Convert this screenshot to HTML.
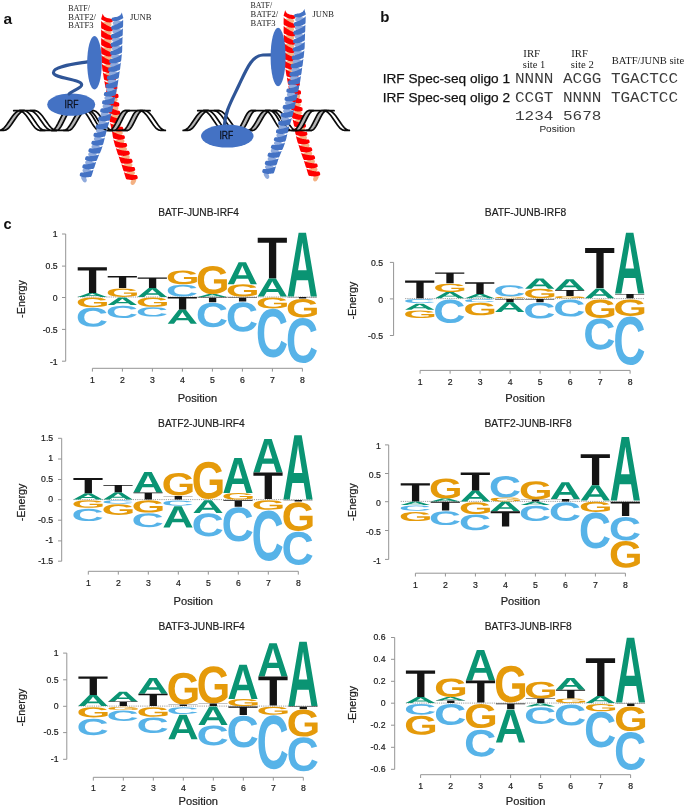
<!DOCTYPE html>
<html><head><meta charset="utf-8"><title>Figure</title>
<style>
html,body{margin:0;padding:0;background:#fff;}
body{width:685px;height:809px;overflow:hidden;font-family:"Liberation Sans",sans-serif;}
svg{display:block;will-change:transform;filter:blur(0.4px);}
text{font-family:"Liberation Sans",sans-serif;}
</style></head><body>
<svg width="685" height="809" viewBox="0 0 685 809" font-family="'Liberation Sans', sans-serif">
<defs><path id="gA" d="M78.7 100 69.7 74.4H30.6L21.5 100H-0L37.4 0H62.7L100 100ZM50.1 15.4 49.6 17Q48.9 19.5 47.9 22.8Q46.9 26 35.4 58.7H64.8L54.7 30L51.6 20.3Z"/><path id="gC" d="M53.1 84Q73 84 80.8 65.5L100 72.2Q93.8 86.3 81.8 93.1Q69.8 100 53.1 100Q27.7 100 13.9 86.7Q-0 73.4 -0 49.6Q-0 25.7 13.4 12.8Q26.7 0 52.1 0Q70.6 0 82.3 6.9Q94 13.7 98.7 27L79.2 31.9Q76.8 24.6 69.6 20.3Q62.4 16 52.6 16Q37.6 16 29.9 24.6Q22.2 33.1 22.2 49.6Q22.2 66.3 30.1 75.2Q38.1 84 53.1 84Z"/><path id="gG" d="M52.2 84.1Q60.6 84.1 68.4 81.8Q76.2 79.4 80.5 75.9V62.4H55.6V47.4H100V83.1Q91.9 91 78.9 95.5Q65.9 100 51.7 100Q26.8 100 13.4 86.9Q0 73.7 0 49.6Q0 25.6 13.5 12.8Q26.9 0 52.2 0Q88.1 0 97.8 25.3L78.1 31Q75 23.6 68.2 19.8Q61.4 16 52.2 16Q37.1 16 29.3 24.7Q21.5 33.4 21.5 49.6Q21.5 66.1 29.6 75.1Q37.6 84.1 52.2 84.1Z"/><path id="gT" d="M0 0H100V12.5H63.5V100H38.5V12.5H0Z"/></defs>
<text x="3.4" y="24" font-size="15.5" font-weight="bold" fill="#111">a</text>
<text x="380.3" y="21.9" font-size="15" font-weight="bold" fill="#111">b</text>
<text x="3.5" y="229.4" font-size="14.6" font-weight="bold" fill="#111">c</text>
<g fill="#f4b183"><ellipse cx="106.68" cy="24.4" rx="4.9" ry="2.7" transform="rotate(0.08 106.68 24.4)"/><ellipse cx="106.68" cy="32.85" rx="4.9" ry="2.7" transform="rotate(-0.03 106.68 32.85)"/><ellipse cx="106.71" cy="41.3" rx="4.9" ry="2.7" transform="rotate(-0.24 106.71 41.3)"/><ellipse cx="106.72" cy="49.75" rx="4.9" ry="2.7" transform="rotate(-0.19 106.72 49.75)"/><ellipse cx="106.9" cy="58.21" rx="4.9" ry="2.7" transform="rotate(-2.38 106.9 58.21)"/><ellipse cx="107.66" cy="66.65" rx="4.9" ry="2.7" transform="rotate(-6.98 107.66 66.65)"/><ellipse cx="108.92" cy="75.01" rx="4.9" ry="2.7" transform="rotate(-8.92 108.92 75.01)"/><ellipse cx="110.38" cy="83.34" rx="4.9" ry="2.7" transform="rotate(-10.55 110.38 83.34)"/><ellipse cx="111.81" cy="91.66" rx="4.9" ry="2.7" transform="rotate(-8.58 111.81 91.66)"/><ellipse cx="112.75" cy="100.04" rx="4.9" ry="2.7" transform="rotate(-5.36 112.75 100.04)"/><ellipse cx="113.49" cy="108.46" rx="4.9" ry="2.7" transform="rotate(-5.3 113.49 108.46)"/><ellipse cx="114.54" cy="116.86" rx="4.9" ry="2.7" transform="rotate(-9.08 114.54 116.86)"/><ellipse cx="116.3" cy="125.14" rx="4.9" ry="2.7" transform="rotate(-13.03 116.3 125.14)"/><ellipse cx="117.95" cy="133.41" rx="4.9" ry="2.7" transform="rotate(-9.47 117.95 133.41)"/><ellipse cx="119.68" cy="141.7" rx="4.9" ry="2.7" transform="rotate(-14.99 119.68 141.7)"/><ellipse cx="122.22" cy="149.78" rx="4.9" ry="2.7" transform="rotate(-18.09 122.22 149.78)"/><ellipse cx="124.97" cy="157.78" rx="4.9" ry="2.7" transform="rotate(-19.57 124.97 157.78)"/><ellipse cx="127.69" cy="165.76" rx="4.9" ry="2.7" transform="rotate(-18.06 127.69 165.76)"/><ellipse cx="130.23" cy="173.82" rx="4.9" ry="2.7" transform="rotate(-17.35 130.23 173.82)"/><ellipse cx="133.41" cy="181.37" rx="3.8" ry="2.3" transform="rotate(-62.26 133.41 181.37)"/></g><path d="M112.79 20.56L112.78 20.32L112.74 20.09L112.66 19.86L112.55 19.64L112.4 19.44L112.19 19.26L111.93 19.11L111.61 18.98L111.24 18.86L110.84 18.76L110.42 18.66L109.99 18.56L109.53 18.46L109.03 18.37L108.51 18.29L107.99 18.2L107.47 18.09L106.99 17.95L106.53 17.78L106.08 17.58L105.64 17.36L105.22 17.13L104.84 16.89L104.5 16.65L104.2 16.39L103.94 16.12L103.72 15.85L103.53 15.57L103.35 15.3L103.2 15.04L103.07 14.77L102.98 14.46L102.91 14.15L102.85 13.9L102.79 13.75L102.7 13.74L102.59 13.92L102.48 14.26L102.35 14.69L102.23 15.17L102.11 15.64L102 16.04L101.88 16.4L101.77 16.76L101.66 17.1L101.56 17.44L101.47 17.75L101.39 18.04L101.32 18.3L101.24 18.54L101.17 18.75L101.13 18.95L101.15 19.15L101.24 19.34L101.42 19.52L101.67 19.69L101.98 19.85L102.32 20.01L102.66 20.17L102.99 20.34L103.31 20.53L103.64 20.72L103.97 20.91L104.31 21.1L104.65 21.28L104.99 21.45L105.31 21.59L105.62 21.73L105.92 21.85L106.25 21.96L106.59 22.06L106.99 22.15L107.44 22.23L107.94 22.29L108.47 22.34L109.01 22.38L109.52 22.4L109.99 22.4L110.42 22.4L110.84 22.38L111.24 22.34L111.6 22.28L111.92 22.19L112.19 22.06L112.39 21.87L112.55 21.64L112.66 21.37L112.74 21.09L112.78 20.81ZM112.83 29.1L112.82 28.81L112.79 28.52L112.73 28.24L112.63 27.97L112.48 27.73L112.28 27.5L112.01 27.32L111.67 27.17L111.28 27.04L110.86 26.91L110.42 26.77L109.98 26.6L109.52 26.4L109.03 26.19L108.52 25.96L108.01 25.72L107.49 25.46L106.98 25.2L106.47 24.92L105.95 24.62L105.43 24.32L104.92 24L104.43 23.7L103.98 23.4L103.56 23.09L103.16 22.78L102.79 22.47L102.44 22.18L102.14 21.92L101.89 21.69L101.69 21.47L101.56 21.24L101.47 21.03L101.4 20.89L101.34 20.86L101.29 20.99L101.23 21.3L101.19 21.78L101.16 22.36L101.15 23.01L101.14 23.67L101.13 24.29L101.12 24.93L101.1 25.62L101.09 26.33L101.1 27.01L101.16 27.61L101.28 28.1L101.47 28.44L101.72 28.67L102.01 28.82L102.33 28.94L102.66 29.05L102.98 29.2L103.29 29.37L103.62 29.55L103.96 29.72L104.3 29.89L104.64 30.05L104.98 30.2L105.3 30.34L105.61 30.47L105.92 30.59L106.24 30.7L106.59 30.8L106.98 30.9L107.43 30.99L107.93 31.08L108.46 31.16L108.99 31.23L109.51 31.28L109.98 31.3L110.42 31.31L110.86 31.31L111.28 31.29L111.67 31.24L112 31.15L112.28 31L112.48 30.77L112.63 30.47L112.73 30.13L112.79 29.77L112.82 29.42ZM112.84 37.53L112.83 37.24L112.8 36.95L112.74 36.67L112.64 36.4L112.49 36.16L112.28 35.94L112.01 35.75L111.67 35.61L111.29 35.48L110.87 35.35L110.43 35.21L109.98 35.04L109.52 34.85L109.03 34.63L108.52 34.4L108.01 34.16L107.49 33.91L106.98 33.65L106.47 33.37L105.95 33.08L105.42 32.77L104.91 32.46L104.43 32.15L103.98 31.85L103.56 31.55L103.16 31.24L102.78 30.93L102.43 30.64L102.13 30.37L101.88 30.15L101.69 29.93L101.55 29.69L101.46 29.49L101.39 29.35L101.33 29.32L101.28 29.45L101.22 29.76L101.18 30.23L101.16 30.82L101.14 31.47L101.13 32.13L101.13 32.75L101.12 33.39L101.1 34.09L101.09 34.8L101.11 35.48L101.17 36.08L101.29 36.57L101.48 36.91L101.73 37.14L102.02 37.29L102.34 37.41L102.67 37.52L102.99 37.67L103.31 37.84L103.63 38.02L103.97 38.19L104.31 38.35L104.66 38.51L104.99 38.66L105.32 38.79L105.62 38.92L105.93 39.04L106.25 39.15L106.6 39.26L107 39.35L107.45 39.44L107.95 39.53L108.48 39.61L109.01 39.67L109.53 39.72L110 39.74L110.44 39.74L110.88 39.74L111.3 39.73L111.69 39.67L112.02 39.58L112.3 39.43L112.5 39.2L112.65 38.9L112.75 38.56L112.8 38.2L112.83 37.84ZM112.86 45.99L112.86 45.7L112.83 45.41L112.77 45.13L112.67 44.86L112.52 44.62L112.31 44.39L112.04 44.21L111.7 44.06L111.32 43.93L110.9 43.8L110.46 43.66L110.01 43.49L109.55 43.29L109.06 43.08L108.56 42.85L108.04 42.61L107.52 42.36L107.01 42.1L106.5 41.82L105.97 41.53L105.45 41.22L104.94 40.92L104.45 40.61L104 40.31L103.58 40.01L103.18 39.71L102.8 39.4L102.45 39.11L102.15 38.84L101.89 38.62L101.7 38.4L101.56 38.17L101.47 37.96L101.4 37.82L101.35 37.8L101.29 37.92L101.24 38.24L101.2 38.71L101.17 39.29L101.16 39.94L101.16 40.6L101.16 41.22L101.15 41.86L101.13 42.55L101.12 43.25L101.14 43.92L101.2 44.52L101.31 45.01L101.5 45.35L101.75 45.58L102.05 45.73L102.37 45.85L102.7 45.96L103.01 46.1L103.33 46.28L103.66 46.46L104 46.63L104.34 46.8L104.68 46.95L105.01 47.1L105.34 47.24L105.64 47.37L105.95 47.49L106.27 47.6L106.62 47.7L107.02 47.8L107.47 47.89L107.97 47.98L108.5 48.06L109.03 48.12L109.54 48.17L110.02 48.19L110.46 48.2L110.9 48.2L111.32 48.18L111.7 48.13L112.04 48.04L112.32 47.89L112.52 47.66L112.67 47.36L112.77 47.02L112.83 46.66L112.86 46.31ZM112.92 54.32L112.91 54.03L112.87 53.75L112.81 53.48L112.71 53.22L112.55 52.99L112.35 52.77L112.07 52.59L111.73 52.45L111.34 52.33L110.92 52.21L110.48 52.08L110.03 51.92L109.57 51.72L109.08 51.51L108.57 51.29L108.05 51.06L107.53 50.81L107.02 50.55L106.51 50.28L105.99 49.98L105.46 49.68L104.95 49.37L104.47 49.06L104.02 48.76L103.6 48.46L103.19 48.15L102.82 47.84L102.47 47.55L102.17 47.28L101.91 47.06L101.72 46.84L101.59 46.6L101.49 46.39L101.43 46.26L101.37 46.23L101.31 46.36L101.26 46.67L101.22 47.14L101.19 47.73L101.18 48.38L101.17 49.05L101.17 49.68L101.16 50.32L101.15 51.03L101.14 51.75L101.16 52.44L101.23 53.06L101.36 53.55L101.55 53.9L101.81 54.13L102.1 54.28L102.43 54.39L102.75 54.5L103.08 54.64L103.4 54.81L103.73 54.99L104.07 55.15L104.42 55.31L104.76 55.47L105.1 55.61L105.43 55.74L105.74 55.86L106.05 55.97L106.37 56.07L106.73 56.17L107.12 56.25L107.57 56.33L108.08 56.4L108.61 56.46L109.15 56.51L109.66 56.53L110.13 56.54L110.58 56.53L111.02 56.52L111.44 56.48L111.82 56.42L112.15 56.32L112.42 56.17L112.62 55.94L112.76 55.65L112.85 55.32L112.9 54.97L112.92 54.63ZM113.35 62.33L113.32 62.06L113.27 61.79L113.18 61.53L113.06 61.29L112.9 61.07L112.68 60.88L112.39 60.72L112.04 60.61L111.65 60.51L111.22 60.42L110.77 60.32L110.32 60.19L109.85 60.02L109.35 59.85L108.83 59.65L108.29 59.45L107.76 59.23L107.24 59L106.72 58.75L106.18 58.48L105.64 58.19L105.12 57.9L104.62 57.61L104.16 57.32L103.73 57.03L103.31 56.73L102.92 56.42L102.57 56.13L102.26 55.87L102 55.65L101.8 55.42L101.66 55.18L101.56 54.97L101.49 54.83L101.44 54.81L101.38 54.94L101.34 55.26L101.31 55.75L101.3 56.36L101.31 57.03L101.32 57.72L101.35 58.38L101.37 59.05L101.4 59.78L101.43 60.52L101.5 61.24L101.6 61.87L101.76 62.37L101.98 62.71L102.25 62.93L102.56 63.07L102.89 63.16L103.23 63.24L103.56 63.37L103.89 63.52L104.23 63.67L104.59 63.81L104.94 63.95L105.3 64.07L105.65 64.19L105.99 64.3L106.31 64.39L106.63 64.48L106.96 64.56L107.32 64.62L107.72 64.68L108.17 64.72L108.68 64.75L109.22 64.77L109.76 64.77L110.27 64.76L110.74 64.73L111.18 64.68L111.62 64.63L112.04 64.57L112.41 64.48L112.74 64.35L112.99 64.18L113.17 63.94L113.29 63.64L113.35 63.31L113.38 62.97L113.37 62.63ZM114.42 70.37L114.37 70.08L114.29 69.81L114.19 69.54L114.05 69.3L113.87 69.08L113.63 68.89L113.34 68.76L112.98 68.66L112.58 68.59L112.15 68.53L111.69 68.46L111.23 68.36L110.74 68.23L110.23 68.09L109.7 67.94L109.15 67.77L108.6 67.59L108.06 67.4L107.52 67.2L106.96 66.97L106.4 66.73L105.85 66.48L105.33 66.23L104.85 65.98L104.4 65.72L103.96 65.45L103.55 65.18L103.17 64.91L102.84 64.67L102.56 64.46L102.35 64.25L102.19 64.02L102.07 63.81L101.99 63.67L101.93 63.65L101.89 63.79L101.87 64.12L101.88 64.63L101.92 65.24L101.98 65.92L102.06 66.61L102.14 67.26L102.22 67.92L102.3 68.64L102.39 69.37L102.51 70.06L102.66 70.66L102.85 71.13L103.09 71.44L103.37 71.64L103.69 71.75L104.02 71.81L104.36 71.87L104.7 71.97L105.04 72.1L105.39 72.22L105.75 72.34L106.12 72.46L106.48 72.56L106.83 72.66L107.17 72.74L107.5 72.82L107.82 72.89L108.16 72.96L108.52 73L108.92 73.04L109.38 73.06L109.89 73.07L110.42 73.07L110.96 73.05L111.48 73.02L111.94 72.97L112.38 72.91L112.82 72.85L113.23 72.76L113.6 72.66L113.92 72.51L114.17 72.32L114.34 72.07L114.44 71.75L114.48 71.39L114.49 71.03L114.46 70.68ZM115.75 78.57L115.69 78.29L115.61 78.02L115.51 77.76L115.36 77.52L115.18 77.31L114.94 77.13L114.64 77L114.28 76.91L113.88 76.85L113.44 76.8L112.99 76.74L112.52 76.65L112.04 76.53L111.52 76.4L110.98 76.25L110.43 76.1L109.88 75.93L109.34 75.76L108.79 75.56L108.23 75.35L107.67 75.13L107.12 74.9L106.59 74.67L106.1 74.44L105.64 74.21L105.19 73.96L104.77 73.72L104.39 73.48L104.05 73.27L103.76 73.08L103.54 72.89L103.37 72.68L103.24 72.49L103.15 72.36L103.1 72.35L103.06 72.48L103.05 72.8L103.09 73.27L103.15 73.85L103.24 74.5L103.33 75.16L103.43 75.78L103.51 76.42L103.6 77.12L103.71 77.84L103.84 78.52L104 79.13L104.2 79.6L104.45 79.91L104.74 80.1L105.05 80.2L105.39 80.26L105.73 80.32L106.07 80.41L106.42 80.53L106.77 80.64L107.13 80.76L107.5 80.86L107.87 80.96L108.22 81.04L108.57 81.12L108.89 81.19L109.22 81.26L109.55 81.31L109.92 81.35L110.32 81.37L110.78 81.38L111.29 81.38L111.82 81.36L112.36 81.33L112.88 81.28L113.34 81.22L113.78 81.14L114.21 81.07L114.62 80.97L114.99 80.85L115.31 80.7L115.55 80.5L115.71 80.25L115.8 79.93L115.84 79.58L115.83 79.22L115.8 78.87ZM117.29 86.93L117.23 86.63L117.15 86.35L117.04 86.07L116.89 85.82L116.7 85.59L116.46 85.41L116.16 85.27L115.8 85.18L115.4 85.12L114.96 85.07L114.5 85.01L114.03 84.91L113.55 84.8L113.03 84.67L112.48 84.54L111.93 84.39L111.37 84.24L110.83 84.07L110.27 83.89L109.71 83.7L109.13 83.49L108.58 83.28L108.04 83.07L107.55 82.85L107.08 82.63L106.62 82.4L106.2 82.17L105.8 81.94L105.46 81.73L105.17 81.55L104.94 81.37L104.76 81.16L104.63 80.97L104.54 80.84L104.48 80.82L104.45 80.96L104.45 81.28L104.5 81.76L104.58 82.35L104.68 82.99L104.8 83.65L104.91 84.26L105.02 84.88L105.12 85.56L105.24 86.25L105.37 86.9L105.53 87.47L105.73 87.91L105.98 88.21L106.26 88.38L106.58 88.48L106.91 88.54L107.25 88.59L107.59 88.68L107.93 88.8L108.29 88.91L108.65 89.02L109.01 89.13L109.37 89.23L109.73 89.32L110.07 89.4L110.39 89.48L110.72 89.55L111.05 89.61L111.41 89.65L111.81 89.69L112.27 89.71L112.78 89.72L113.32 89.72L113.86 89.7L114.37 89.67L114.84 89.62L115.28 89.56L115.72 89.5L116.13 89.41L116.5 89.3L116.82 89.16L117.06 88.96L117.23 88.69L117.33 88.36L117.37 88L117.37 87.62L117.33 87.26ZM118.5 95.66L118.46 95.36L118.4 95.06L118.31 94.78L118.18 94.51L118 94.27L117.77 94.07L117.48 93.91L117.13 93.8L116.73 93.71L116.29 93.63L115.84 93.54L115.38 93.42L114.9 93.28L114.38 93.12L113.85 92.96L113.31 92.78L112.76 92.6L112.22 92.41L111.68 92.2L111.12 91.98L110.56 91.76L110.01 91.53L109.48 91.3L108.99 91.08L108.54 90.85L108.09 90.61L107.67 90.38L107.29 90.15L106.95 89.95L106.66 89.77L106.44 89.59L106.27 89.39L106.14 89.21L106.05 89.09L105.99 89.07L105.96 89.2L105.95 89.51L105.99 89.97L106.05 90.52L106.13 91.14L106.22 91.76L106.3 92.35L106.38 92.95L106.45 93.61L106.53 94.28L106.62 94.92L106.74 95.48L106.91 95.93L107.14 96.23L107.41 96.43L107.72 96.54L108.05 96.62L108.39 96.69L108.72 96.8L109.05 96.94L109.39 97.08L109.75 97.21L110.1 97.34L110.46 97.46L110.81 97.57L111.14 97.68L111.46 97.78L111.78 97.86L112.11 97.94L112.47 98.01L112.86 98.07L113.32 98.12L113.83 98.16L114.36 98.19L114.9 98.21L115.42 98.2L115.89 98.18L116.33 98.15L116.77 98.11L117.18 98.05L117.56 97.96L117.89 97.84L118.15 97.66L118.33 97.41L118.45 97.09L118.51 96.73L118.54 96.35L118.53 95.99ZM119.28 104.18L119.25 103.9L119.19 103.61L119.11 103.34L118.99 103.08L118.82 102.84L118.6 102.64L118.31 102.48L117.96 102.36L117.56 102.27L117.13 102.18L116.68 102.07L116.23 101.94L115.75 101.78L115.25 101.61L114.72 101.43L114.18 101.23L113.64 101.03L113.12 100.81L112.58 100.58L112.04 100.33L111.49 100.07L110.95 99.81L110.44 99.55L109.97 99.3L109.52 99.04L109.09 98.77L108.69 98.51L108.32 98.26L107.99 98.03L107.72 97.84L107.5 97.64L107.35 97.43L107.23 97.24L107.15 97.11L107.1 97.09L107.05 97.22L107.03 97.53L107.03 97.99L107.06 98.56L107.11 99.19L107.16 99.83L107.21 100.45L107.26 101.07L107.3 101.76L107.35 102.46L107.42 103.13L107.53 103.72L107.69 104.19L107.91 104.52L108.18 104.72L108.48 104.85L108.81 104.94L109.15 105.02L109.48 105.14L109.81 105.29L110.15 105.44L110.5 105.58L110.85 105.72L111.21 105.85L111.56 105.97L111.89 106.08L112.21 106.18L112.52 106.27L112.85 106.35L113.21 106.43L113.61 106.49L114.07 106.54L114.57 106.58L115.11 106.62L115.65 106.63L116.16 106.63L116.63 106.61L117.08 106.58L117.51 106.55L117.93 106.49L118.31 106.41L118.64 106.28L118.9 106.11L119.08 105.87L119.2 105.56L119.27 105.21L119.3 104.85L119.3 104.5ZM120.09 112.36L120.05 112.09L119.99 111.82L119.9 111.57L119.77 111.32L119.59 111.11L119.37 110.92L119.07 110.77L118.72 110.67L118.33 110.58L117.9 110.51L117.45 110.42L116.99 110.3L116.51 110.15L116 109.99L115.47 109.82L114.93 109.63L114.39 109.44L113.86 109.23L113.33 109L112.78 108.75L112.23 108.5L111.69 108.23L111.18 107.97L110.71 107.71L110.26 107.45L109.83 107.17L109.43 106.9L109.06 106.63L108.74 106.39L108.46 106.19L108.25 105.99L108.1 105.76L107.99 105.56L107.91 105.43L107.85 105.41L107.8 105.54L107.78 105.86L107.78 106.34L107.8 106.93L107.85 107.58L107.9 108.25L107.95 108.89L108.01 109.53L108.06 110.25L108.12 110.97L108.21 111.67L108.33 112.29L108.51 112.78L108.74 113.11L109.01 113.32L109.33 113.44L109.66 113.52L110 113.6L110.33 113.71L110.67 113.85L111.02 113.99L111.37 114.12L111.73 114.25L112.09 114.37L112.45 114.47L112.79 114.56L113.11 114.65L113.43 114.73L113.77 114.79L114.13 114.85L114.53 114.89L114.99 114.91L115.5 114.93L116.03 114.93L116.57 114.91L117.08 114.88L117.55 114.83L117.99 114.77L118.43 114.71L118.84 114.63L119.21 114.53L119.53 114.39L119.78 114.21L119.96 113.97L120.06 113.67L120.12 113.34L120.13 112.99L120.12 112.66ZM121.46 120.18L121.39 119.91L121.31 119.64L121.19 119.39L121.04 119.16L120.85 118.96L120.6 118.8L120.3 118.68L119.94 118.61L119.54 118.56L119.1 118.52L118.65 118.48L118.18 118.4L117.69 118.3L117.17 118.18L116.63 118.06L116.08 117.92L115.52 117.77L114.97 117.6L114.42 117.42L113.85 117.21L113.29 116.99L112.73 116.76L112.2 116.53L111.71 116.3L111.25 116.05L110.8 115.79L110.38 115.53L109.99 115.28L109.65 115.04L109.37 114.84L109.15 114.64L108.98 114.41L108.86 114.21L108.78 114.07L108.72 114.05L108.68 114.19L108.67 114.53L108.69 115.03L108.76 115.65L108.84 116.33L108.94 117.03L109.05 117.69L109.16 118.36L109.27 119.09L109.4 119.83L109.55 120.53L109.74 121.14L109.96 121.62L110.22 121.92L110.51 122.11L110.83 122.2L111.17 122.25L111.51 122.3L111.86 122.37L112.21 122.48L112.57 122.59L112.93 122.69L113.3 122.78L113.67 122.86L114.03 122.93L114.38 123L114.71 123.06L115.04 123.11L115.37 123.15L115.74 123.17L116.14 123.18L116.6 123.17L117.11 123.14L117.65 123.1L118.18 123.05L118.69 122.98L119.16 122.9L119.59 122.81L120.02 122.71L120.43 122.6L120.79 122.46L121.1 122.3L121.33 122.09L121.48 121.83L121.56 121.51L121.58 121.17L121.56 120.82L121.52 120.48ZM123.35 128.53L123.28 128.23L123.19 127.93L123.07 127.65L122.92 127.4L122.72 127.17L122.47 126.98L122.16 126.85L121.79 126.77L121.39 126.73L120.95 126.69L120.49 126.64L120.02 126.57L119.52 126.47L119 126.36L118.45 126.25L117.89 126.13L117.33 126L116.77 125.86L116.21 125.7L115.63 125.53L115.05 125.35L114.48 125.16L113.94 124.97L113.44 124.78L112.96 124.58L112.49 124.36L112.05 124.14L111.65 123.93L111.3 123.73L111 123.57L110.76 123.39L110.58 123.18L110.44 122.99L110.34 122.87L110.28 122.85L110.25 122.99L110.27 123.32L110.34 123.8L110.45 124.39L110.58 125.04L110.72 125.69L110.87 126.3L111 126.92L111.14 127.58L111.28 128.25L111.44 128.88L111.62 129.43L111.83 129.85L112.08 130.12L112.37 130.28L112.69 130.37L113.02 130.41L113.37 130.45L113.71 130.53L114.05 130.63L114.4 130.74L114.76 130.84L115.13 130.93L115.49 131.02L115.85 131.11L116.19 131.18L116.52 131.25L116.84 131.31L117.18 131.37L117.54 131.41L117.94 131.43L118.4 131.45L118.91 131.45L119.44 131.44L119.98 131.42L120.49 131.38L120.96 131.32L121.4 131.25L121.83 131.18L122.25 131.09L122.62 130.98L122.93 130.82L123.18 130.62L123.34 130.35L123.43 130.01L123.46 129.63L123.45 129.24L123.41 128.87ZM124.77 136.76L124.7 136.5L124.62 136.26L124.52 136.02L124.37 135.8L124.19 135.61L123.95 135.45L123.65 135.33L123.29 135.25L122.89 135.2L122.46 135.16L122.01 135.1L121.54 135.02L121.06 134.91L120.54 134.78L120.01 134.64L119.46 134.49L118.91 134.33L118.37 134.15L117.82 133.96L117.26 133.75L116.7 133.53L116.15 133.31L115.62 133.08L115.14 132.87L114.67 132.65L114.23 132.42L113.81 132.19L113.42 131.97L113.08 131.78L112.79 131.62L112.57 131.45L112.39 131.26L112.26 131.09L112.17 130.97L112.12 130.96L112.08 131.08L112.08 131.38L112.12 131.82L112.19 132.37L112.28 132.97L112.37 133.6L112.46 134.2L112.55 134.83L112.63 135.54L112.74 136.27L112.87 136.98L113.04 137.61L113.25 138.11L113.51 138.44L113.81 138.64L114.13 138.74L114.47 138.8L114.81 138.85L115.16 138.94L115.51 139.05L115.87 139.17L116.24 139.27L116.61 139.37L116.98 139.45L117.35 139.52L117.69 139.59L118.02 139.64L118.35 139.69L118.69 139.72L119.06 139.74L119.46 139.74L119.92 139.72L120.43 139.68L120.96 139.63L121.5 139.56L122.01 139.48L122.47 139.38L122.9 139.28L123.33 139.17L123.73 139.05L124.09 138.91L124.39 138.74L124.63 138.54L124.77 138.29L124.85 138L124.88 137.68L124.86 137.35L124.82 137.04ZM126.92 144.34L126.82 144.08L126.71 143.82L126.57 143.57L126.4 143.36L126.18 143.17L125.92 143.03L125.61 142.94L125.24 142.9L124.84 142.89L124.4 142.9L123.94 142.89L123.47 142.86L122.97 142.81L122.44 142.75L121.89 142.68L121.32 142.59L120.76 142.5L120.19 142.39L119.63 142.27L119.04 142.12L118.45 141.96L117.87 141.79L117.32 141.61L116.81 141.43L116.32 141.23L115.84 141.02L115.4 140.79L114.98 140.57L114.62 140.36L114.32 140.18L114.07 139.99L113.88 139.77L113.74 139.57L113.64 139.44L113.58 139.42L113.56 139.57L113.58 139.92L113.66 140.44L113.79 141.07L113.95 141.76L114.13 142.45L114.31 143.1L114.49 143.75L114.68 144.46L114.88 145.18L115.1 145.85L115.34 146.43L115.6 146.87L115.89 147.15L116.2 147.29L116.53 147.36L116.87 147.37L117.21 147.38L117.56 147.43L117.92 147.5L118.28 147.57L118.66 147.64L119.04 147.69L119.41 147.74L119.78 147.78L120.13 147.81L120.46 147.84L120.79 147.86L121.13 147.87L121.49 147.86L121.9 147.83L122.35 147.78L122.86 147.71L123.39 147.62L123.91 147.52L124.42 147.41L124.87 147.28L125.3 147.15L125.72 147.02L126.11 146.87L126.46 146.71L126.75 146.52L126.97 146.29L127.09 146.01L127.14 145.69L127.13 145.34L127.08 144.98L127 144.64ZM129.52 152.23L129.42 151.97L129.3 151.71L129.16 151.47L128.98 151.25L128.76 151.07L128.5 150.93L128.18 150.85L127.81 150.82L127.41 150.82L126.97 150.83L126.51 150.84L126.04 150.82L125.54 150.78L125.01 150.73L124.46 150.68L123.89 150.61L123.32 150.53L122.75 150.44L122.18 150.34L121.59 150.22L121 150.09L120.42 149.95L119.86 149.81L119.34 149.67L118.85 149.51L118.37 149.34L117.91 149.16L117.49 148.98L117.12 148.82L116.81 148.68L116.56 148.53L116.36 148.34L116.2 148.17L116.09 148.06L116.03 148.05L116.02 148.19L116.07 148.51L116.18 148.98L116.33 149.55L116.52 150.18L116.72 150.81L116.91 151.41L117.11 152.03L117.31 152.7L117.52 153.39L117.75 154.04L118 154.6L118.27 155.03L118.56 155.3L118.88 155.44L119.21 155.5L119.55 155.51L119.9 155.51L120.25 155.54L120.6 155.61L120.97 155.67L121.35 155.73L121.73 155.77L122.1 155.81L122.47 155.84L122.82 155.87L123.15 155.89L123.48 155.9L123.83 155.9L124.19 155.88L124.59 155.84L125.05 155.78L125.55 155.69L126.08 155.59L126.6 155.48L127.1 155.35L127.55 155.21L127.97 155.07L128.39 154.93L128.78 154.77L129.13 154.6L129.41 154.4L129.62 154.17L129.74 153.89L129.78 153.56L129.76 153.21L129.7 152.86L129.62 152.53ZM132.34 160.23L132.24 159.95L132.12 159.68L131.97 159.42L131.78 159.2L131.56 159.01L131.29 158.86L130.97 158.77L130.6 158.74L130.19 158.74L129.75 158.76L129.29 158.77L128.82 158.76L128.32 158.72L127.78 158.68L127.23 158.63L126.66 158.57L126.08 158.51L125.52 158.43L124.94 158.34L124.35 158.23L123.75 158.12L123.17 158L122.61 157.87L122.08 157.74L121.59 157.59L121.1 157.44L120.64 157.27L120.22 157.1L119.84 156.95L119.53 156.82L119.27 156.67L119.06 156.49L118.9 156.32L118.79 156.21L118.73 156.2L118.72 156.34L118.78 156.66L118.9 157.13L119.07 157.7L119.28 158.32L119.49 158.95L119.7 159.54L119.91 160.14L120.12 160.79L120.34 161.45L120.58 162.08L120.82 162.61L121.09 163.02L121.38 163.27L121.69 163.4L122.01 163.45L122.35 163.46L122.7 163.45L123.05 163.49L123.4 163.55L123.77 163.61L124.14 163.66L124.52 163.71L124.89 163.75L125.26 163.79L125.61 163.81L125.94 163.84L126.27 163.86L126.61 163.86L126.97 163.85L127.37 163.82L127.83 163.76L128.34 163.69L128.86 163.6L129.39 163.5L129.89 163.39L130.35 163.26L130.77 163.13L131.19 163L131.59 162.85L131.94 162.68L132.23 162.48L132.44 162.25L132.56 161.97L132.61 161.63L132.59 161.26L132.53 160.9L132.44 160.54ZM134.98 168.4L134.88 168.12L134.77 167.85L134.63 167.6L134.45 167.37L134.23 167.18L133.97 167.03L133.65 166.93L133.29 166.89L132.88 166.88L132.44 166.89L131.98 166.89L131.5 166.86L131.01 166.81L130.48 166.75L129.92 166.69L129.35 166.61L128.78 166.53L128.22 166.43L127.65 166.33L127.06 166.2L126.47 166.07L125.89 165.94L125.33 165.79L124.82 165.65L124.33 165.5L123.85 165.33L123.4 165.16L122.98 165L122.61 164.85L122.3 164.72L122.05 164.58L121.85 164.4L121.7 164.24L121.59 164.14L121.53 164.13L121.52 164.26L121.56 164.57L121.67 165.02L121.82 165.57L122 166.17L122.19 166.79L122.38 167.38L122.56 167.97L122.75 168.63L122.95 169.3L123.17 169.94L123.41 170.49L123.66 170.91L123.95 171.18L124.25 171.32L124.58 171.38L124.92 171.4L125.26 171.4L125.61 171.45L125.97 171.52L126.33 171.59L126.71 171.65L127.08 171.71L127.45 171.76L127.82 171.8L128.17 171.83L128.5 171.87L128.83 171.89L129.17 171.9L129.53 171.9L129.94 171.87L130.39 171.82L130.9 171.76L131.43 171.68L131.96 171.58L132.46 171.47L132.92 171.36L133.35 171.23L133.77 171.1L134.16 170.96L134.51 170.8L134.81 170.61L135.02 170.38L135.15 170.1L135.2 169.77L135.2 169.41L135.14 169.05L135.07 168.7ZM137.5 176.48L137.41 176.21L137.29 175.94L137.15 175.69L136.98 175.46L136.76 175.27L136.5 175.12L136.18 175.02L135.82 174.98L135.41 174.97L134.97 174.98L134.51 174.97L134.04 174.94L133.54 174.89L133.01 174.83L132.45 174.76L131.89 174.68L131.32 174.59L130.76 174.49L130.19 174.38L129.6 174.25L129.01 174.12L128.43 173.97L127.87 173.82L127.36 173.67L126.87 173.51L126.39 173.33L125.94 173.15L125.52 172.98L125.15 172.82L124.85 172.68L124.6 172.53L124.4 172.35L124.25 172.18L124.14 172.07L124.08 172.06L124.07 172.19L124.11 172.51L124.21 172.97L124.36 173.53L124.53 174.15L124.72 174.78L124.9 175.38L125.08 175.99L125.27 176.65L125.47 177.33L125.68 177.97L125.92 178.53L126.17 178.96L126.46 179.22L126.76 179.37L127.09 179.43L127.43 179.44L127.78 179.46L128.12 179.5L128.48 179.58L128.84 179.65L129.22 179.71L129.59 179.77L129.96 179.82L130.33 179.86L130.68 179.9L131.01 179.93L131.34 179.95L131.68 179.97L132.05 179.96L132.45 179.94L132.9 179.89L133.41 179.83L133.94 179.75L134.47 179.65L134.97 179.55L135.43 179.43L135.86 179.31L136.28 179.18L136.67 179.04L137.03 178.88L137.32 178.69L137.54 178.46L137.67 178.18L137.72 177.85L137.71 177.5L137.66 177.14L137.59 176.79Z" fill="#ff0000"/>
<path d="M19.85 110.7H24.05M40.05 130.4H56.55M66.95 110.7H86.05M99.45 130.4H114.05M124.85 110.7H144.65M13.7 110.7H35.3M51.65 130.4H68.55M81.45 110.7H93.55M107.45 130.4H127.35M137.4 110.7H150.1" fill="none" stroke="#0a0a0a" stroke-width="1.7" stroke-linejoin="round" stroke-linecap="round"/><path d="M-0.85 130.4L0.18 130.28L1.22 129.92L2.25 129.33L3.29 128.52L4.32 127.52L5.36 126.34L6.39 125.02L7.43 123.59L8.46 122.09L9.5 120.55L10.54 119.01L11.57 117.51L12.61 116.08L13.64 114.76L14.67 113.58L15.71 112.58L16.74 111.77L17.78 111.18L18.81 110.82L19.85 110.7L24.55 110.7L23.52 110.82L22.48 111.18L21.45 111.77L20.41 112.58L19.38 113.58L18.34 114.76L17.3 116.08L16.27 117.51L15.23 119.01L14.2 120.55L13.16 122.09L12.13 123.59L11.09 125.02L10.06 126.34L9.03 127.52L7.99 128.52L6.96 129.33L5.92 129.92L4.88 130.28L3.85 130.4ZM51.85 130.4L52.61 130.28L53.36 129.92L54.12 129.33L54.87 128.52L55.62 127.52L56.38 126.34L57.13 125.02L57.89 123.59L58.64 122.09L59.4 120.55L60.16 119.01L60.91 117.51L61.66 116.08L62.42 114.76L63.18 113.58L63.93 112.58L64.69 111.77L65.44 111.18L66.2 110.82L66.95 110.7L71.65 110.7L70.89 110.82L70.14 111.18L69.38 111.77L68.63 112.58L67.88 113.58L67.12 114.76L66.36 116.08L65.61 117.51L64.86 119.01L64.1 120.55L63.34 122.09L62.59 123.59L61.84 125.02L61.08 126.34L60.33 127.52L59.57 128.52L58.82 129.33L58.06 129.92L57.31 130.28L56.55 130.4ZM109.35 130.4L110.13 130.28L110.9 129.92L111.68 129.33L112.45 128.52L113.23 127.52L114 126.34L114.78 125.02L115.55 123.59L116.33 122.09L117.1 120.55L117.88 119.01L118.65 117.51L119.43 116.08L120.2 114.76L120.98 113.58L121.75 112.58L122.53 111.77L123.3 111.18L124.08 110.82L124.85 110.7L129.55 110.7L128.78 110.82L128 111.18L127.22 111.77L126.45 112.58L125.67 113.58L124.9 114.76L124.12 116.08L123.35 117.51L122.58 119.01L121.8 120.55L121.02 122.09L120.25 123.59L119.47 125.02L118.7 126.34L117.92 127.52L117.15 128.52L116.38 129.33L115.6 129.92L114.83 130.28L114.05 130.4ZM63.85 130.4L64.73 130.28L65.61 129.92L66.49 129.33L67.37 128.52L68.25 127.52L69.13 126.34L70.01 125.02L70.89 123.59L71.77 122.09L72.65 120.55L73.53 119.01L74.41 117.51L75.29 116.08L76.17 114.76L77.05 113.58L77.93 112.58L78.81 111.77L79.69 111.18L80.57 110.82L81.45 110.7L86.15 110.7L85.27 110.82L84.39 111.18L83.51 111.77L82.63 112.58L81.75 113.58L80.87 114.76L79.99 116.08L79.11 117.51L78.23 119.01L77.35 120.55L76.47 122.09L75.59 123.59L74.71 125.02L73.83 126.34L72.95 127.52L72.07 128.52L71.19 129.33L70.31 129.92L69.43 130.28L68.55 130.4ZM122.65 130.4L123.41 130.28L124.17 129.92L124.93 129.33L125.69 128.52L126.45 127.52L127.21 126.34L127.97 125.02L128.73 123.59L129.49 122.09L130.25 120.55L131.01 119.01L131.77 117.51L132.53 116.08L133.29 114.76L134.05 113.58L134.81 112.58L135.57 111.77L136.33 111.18L137.09 110.82L137.85 110.7L142.55 110.7L141.79 110.82L141.03 111.18L140.27 111.77L139.51 112.58L138.75 113.58L137.99 114.76L137.23 116.08L136.47 117.51L135.71 119.01L134.95 120.55L134.19 122.09L133.43 123.59L132.67 125.02L131.91 126.34L131.15 127.52L130.39 128.52L129.63 129.33L128.87 129.92L128.11 130.28L127.35 130.4Z" fill="#b4b4b4" stroke="#0a0a0a" stroke-width="1.7" stroke-linejoin="round" stroke-linecap="round"/><path d="M19.35 110.7L20.38 110.82L21.42 111.18L22.45 111.77L23.49 112.58L24.52 113.58L25.56 114.76L26.59 116.08L27.63 117.51L28.66 119.01L29.7 120.55L30.73 122.09L31.77 123.59L32.8 125.02L33.84 126.34L34.87 127.52L35.91 128.52L36.95 129.33L37.98 129.92L39.01 130.28L40.05 130.4L44.75 130.4L43.71 130.28L42.68 129.92L41.65 129.33L40.61 128.52L39.57 127.52L38.54 126.34L37.51 125.02L36.47 123.59L35.44 122.09L34.4 120.55L33.37 119.01L32.33 117.51L31.3 116.08L30.26 114.76L29.23 113.58L28.19 112.58L27.16 111.77L26.12 111.18L25.09 110.82L24.05 110.7ZM81.35 110.7L82.26 110.82L83.16 111.18L84.07 111.77L84.97 112.58L85.88 113.58L86.78 114.76L87.69 116.08L88.59 117.51L89.5 119.01L90.4 120.55L91.31 122.09L92.21 123.59L93.12 125.02L94.02 126.34L94.93 127.52L95.83 128.52L96.73 129.33L97.64 129.92L98.55 130.28L99.45 130.4L104.15 130.4L103.24 130.28L102.34 129.92L101.43 129.33L100.53 128.52L99.62 127.52L98.72 126.34L97.81 125.02L96.91 123.59L96 122.09L95.1 120.55L94.19 119.01L93.29 117.51L92.38 116.08L91.48 114.76L90.57 113.58L89.67 112.58L88.77 111.77L87.86 111.18L86.95 110.82L86.05 110.7ZM139.95 110.7L140.98 110.82L142.02 111.18L143.05 111.77L144.09 112.58L145.12 113.58L146.16 114.76L147.19 116.08L148.23 117.51L149.26 119.01L150.3 120.55L151.34 122.09L152.37 123.59L153.41 125.02L154.44 126.34L155.47 127.52L156.51 128.52L157.54 129.33L158.58 129.92L159.62 130.28L160.65 130.4L165.35 130.4L164.31 130.28L163.28 129.92L162.24 129.33L161.21 128.52L160.17 127.52L159.14 126.34L158.1 125.02L157.07 123.59L156.03 122.09L155 120.55L153.96 119.01L152.93 117.51L151.89 116.08L150.86 114.76L149.82 113.58L148.79 112.58L147.75 111.77L146.72 111.18L145.68 110.82L144.65 110.7ZM30.15 110.7L31.23 110.82L32.3 111.18L33.38 111.77L34.45 112.58L35.52 113.58L36.6 114.76L37.67 116.08L38.75 117.51L39.82 119.01L40.9 120.55L41.98 122.09L43.05 123.59L44.12 125.02L45.2 126.34L46.27 127.52L47.35 128.52L48.42 129.33L49.5 129.92L50.57 130.28L51.65 130.4L56.35 130.4L55.27 130.28L54.2 129.92L53.12 129.33L52.05 128.52L50.98 127.52L49.9 126.34L48.83 125.02L47.75 123.59L46.68 122.09L45.6 120.55L44.52 119.01L43.45 117.51L42.38 116.08L41.3 114.76L40.23 113.58L39.15 112.58L38.08 111.77L37 111.18L35.93 110.82L34.85 110.7ZM88.85 110.7L89.78 110.82L90.71 111.18L91.64 111.77L92.57 112.58L93.5 113.58L94.43 114.76L95.36 116.08L96.29 117.51L97.22 119.01L98.15 120.55L99.08 122.09L100.01 123.59L100.94 125.02L101.87 126.34L102.8 127.52L103.73 128.52L104.66 129.33L105.59 129.92L106.52 130.28L107.45 130.4L112.15 130.4L111.22 130.28L110.29 129.92L109.36 129.33L108.43 128.52L107.5 127.52L106.57 126.34L105.64 125.02L104.71 123.59L103.78 122.09L102.85 120.55L101.92 119.01L100.99 117.51L100.06 116.08L99.13 114.76L98.2 113.58L97.27 112.58L96.34 111.77L95.41 111.18L94.48 110.82L93.55 110.7Z" fill="#fff" stroke="#0a0a0a" stroke-width="1.7" stroke-linejoin="round" stroke-linecap="round"/>
<ellipse cx="71.2" cy="104.6" rx="24" ry="11.2" fill="#4472c4"/>
<path d="M88.5 61.6C78 63.5 53 66 53.4 72.6C53.8 78.5 81 79 81.7 84.6C82 88 72 91 69 94" fill="none" stroke="#2f5597" stroke-width="3.1" stroke-linecap="round"/>
<ellipse cx="94.5" cy="62.8" rx="7.3" ry="26.8" fill="#4472c4"/>
<g fill="#8faadc"><ellipse cx="117.58" cy="23.11" rx="4.9" ry="2.7" transform="rotate(1.67 117.58 23.11)"/><ellipse cx="117.26" cy="31.55" rx="4.9" ry="2.7" transform="rotate(2.37 117.26 31.55)"/><ellipse cx="116.9" cy="39.99" rx="4.9" ry="2.7" transform="rotate(2.26 116.9 39.99)"/><ellipse cx="116.68" cy="48.44" rx="4.9" ry="2.7" transform="rotate(1.93 116.68 48.44)"/><ellipse cx="116" cy="56.88" rx="4.9" ry="2.7" transform="rotate(6.08 116 56.88)"/><ellipse cx="114.95" cy="65.28" rx="4.9" ry="2.7" transform="rotate(7.54 114.95 65.28)"/><ellipse cx="113.78" cy="73.65" rx="4.9" ry="2.7" transform="rotate(8.24 113.78 73.65)"/><ellipse cx="112.5" cy="82.01" rx="4.9" ry="2.7" transform="rotate(9.24 112.5 82.01)"/><ellipse cx="110.94" cy="90.32" rx="4.9" ry="2.7" transform="rotate(11.3 110.94 90.32)"/><ellipse cx="109.2" cy="98.59" rx="4.9" ry="2.7" transform="rotate(12.18 109.2 98.59)"/><ellipse cx="107.37" cy="106.85" rx="4.9" ry="2.7" transform="rotate(12.79 107.37 106.85)"/><ellipse cx="105.42" cy="115.08" rx="4.9" ry="2.7" transform="rotate(13.94 105.42 115.08)"/><ellipse cx="103.12" cy="123.22" rx="4.9" ry="2.7" transform="rotate(16.78 103.12 123.22)"/><ellipse cx="100.75" cy="131.32" rx="4.9" ry="2.7" transform="rotate(15.22 100.75 131.32)"/><ellipse cx="98.67" cy="139.51" rx="4.9" ry="2.7" transform="rotate(14.42 98.67 139.51)"/><ellipse cx="96.2" cy="147.62" rx="4.9" ry="2.7" transform="rotate(19.8 96.2 147.62)"/><ellipse cx="92.85" cy="155.39" rx="4.9" ry="2.7" transform="rotate(23.49 92.85 155.39)"/><ellipse cx="89.89" cy="163.28" rx="4.9" ry="2.7" transform="rotate(18.99 89.89 163.28)"/><ellipse cx="87.25" cy="171.3" rx="4.9" ry="2.7" transform="rotate(17.96 87.25 171.3)"/><ellipse cx="83.98" cy="178.81" rx="3.8" ry="2.3" transform="rotate(62.99 83.98 178.81)"/></g><path d="M111.59 19.13L111.6 18.9L111.65 18.67L111.72 18.44L111.84 18.23L112 18.03L112.21 17.86L112.48 17.71L112.8 17.59L113.17 17.48L113.57 17.39L113.99 17.3L114.42 17.2L114.88 17.11L115.38 17.04L115.91 16.96L116.43 16.88L116.95 16.78L117.43 16.65L117.89 16.48L118.35 16.29L118.8 16.08L119.22 15.86L119.6 15.62L119.95 15.38L120.25 15.13L120.51 14.87L120.73 14.59L120.93 14.32L121.11 14.05L121.27 13.8L121.4 13.52L121.49 13.21L121.56 12.91L121.63 12.65L121.7 12.5L121.78 12.5L121.89 12.68L122 13.02L122.11 13.45L122.23 13.93L122.35 14.4L122.46 14.81L122.56 15.17L122.67 15.53L122.78 15.89L122.87 16.22L122.96 16.54L123.03 16.84L123.1 17.1L123.17 17.34L123.24 17.56L123.27 17.77L123.25 17.96L123.16 18.15L122.97 18.34L122.72 18.5L122.41 18.66L122.07 18.81L121.72 18.97L121.39 19.13L121.07 19.31L120.73 19.5L120.39 19.68L120.05 19.87L119.7 20.04L119.37 20.2L119.04 20.33L118.73 20.46L118.42 20.58L118.09 20.68L117.74 20.77L117.35 20.85L116.9 20.91L116.39 20.96L115.86 21L115.32 21.02L114.81 21.03L114.34 21.02L113.91 21L113.49 20.97L113.1 20.92L112.73 20.85L112.41 20.75L112.15 20.62L111.95 20.43L111.8 20.19L111.69 19.93L111.63 19.65L111.59 19.38ZM111.27 27.56L111.29 27.27L111.33 26.99L111.4 26.71L111.51 26.45L111.66 26.21L111.88 26L112.16 25.82L112.5 25.69L112.89 25.58L113.32 25.46L113.76 25.34L114.21 25.19L114.68 25.01L115.17 24.81L115.69 24.6L116.21 24.38L116.74 24.14L117.26 23.9L117.78 23.64L118.31 23.36L118.84 23.07L119.36 22.77L119.86 22.47L120.31 22.18L120.74 21.89L121.15 21.59L121.54 21.29L121.89 21L122.2 20.74L122.46 20.52L122.66 20.3L122.8 20.07L122.9 19.86L122.97 19.72L123.02 19.7L123.07 19.83L123.12 20.14L123.15 20.63L123.16 21.22L123.16 21.88L123.15 22.55L123.13 23.18L123.12 23.83L123.12 24.53L123.1 25.24L123.06 25.93L122.98 26.53L122.85 27.01L122.64 27.35L122.38 27.57L122.08 27.71L121.76 27.82L121.43 27.92L121.1 28.05L120.78 28.22L120.45 28.38L120.1 28.54L119.76 28.69L119.41 28.84L119.07 28.97L118.74 29.1L118.43 29.22L118.11 29.32L117.79 29.42L117.43 29.51L117.04 29.59L116.59 29.67L116.08 29.74L115.55 29.79L115.01 29.84L114.5 29.87L114.03 29.87L113.58 29.86L113.14 29.84L112.72 29.81L112.34 29.75L112.01 29.64L111.74 29.48L111.54 29.24L111.41 28.94L111.32 28.59L111.28 28.23L111.26 27.88ZM110.91 35.99L110.93 35.7L110.98 35.41L111.05 35.13L111.16 34.87L111.32 34.63L111.53 34.41L111.81 34.24L112.16 34.11L112.55 33.99L112.97 33.89L113.42 33.76L113.87 33.61L114.34 33.43L114.83 33.24L115.35 33.03L115.88 32.81L116.41 32.58L116.92 32.34L117.45 32.08L117.98 31.81L118.52 31.53L119.04 31.24L119.54 30.95L120 30.67L120.43 30.38L120.84 30.09L121.23 29.8L121.59 29.52L121.9 29.26L122.17 29.05L122.37 28.84L122.51 28.6L122.61 28.4L122.69 28.27L122.74 28.24L122.79 28.37L122.84 28.69L122.86 29.16L122.86 29.75L122.85 30.4L122.83 31.06L122.81 31.69L122.79 32.32L122.78 33.02L122.76 33.73L122.72 34.4L122.64 35L122.5 35.48L122.29 35.81L122.03 36.03L121.73 36.17L121.41 36.28L121.08 36.37L120.75 36.51L120.43 36.67L120.09 36.83L119.75 36.99L119.4 37.14L119.05 37.29L118.71 37.42L118.38 37.54L118.07 37.66L117.76 37.77L117.43 37.87L117.08 37.96L116.68 38.04L116.23 38.11L115.72 38.18L115.19 38.24L114.66 38.28L114.14 38.31L113.67 38.31L113.22 38.3L112.78 38.29L112.37 38.25L111.98 38.19L111.65 38.08L111.38 37.92L111.19 37.68L111.05 37.37L110.97 37.02L110.92 36.66L110.91 36.31ZM110.62 44.55L110.64 44.26L110.67 43.97L110.74 43.69L110.84 43.42L111 43.17L111.21 42.95L111.48 42.77L111.83 42.63L112.21 42.51L112.64 42.39L113.08 42.26L113.53 42.1L113.99 41.91L114.49 41.71L115 41.49L115.53 41.27L116.05 41.03L116.57 40.78L117.09 40.52L117.62 40.25L118.16 39.96L118.68 39.67L119.18 39.38L119.64 39.1L120.07 38.82L120.49 38.53L120.88 38.24L121.23 37.97L121.55 37.71L121.81 37.5L122.01 37.29L122.16 37.06L122.26 36.86L122.33 36.72L122.39 36.7L122.44 36.83L122.48 37.14L122.5 37.62L122.5 38.2L122.49 38.84L122.47 39.49L122.45 40.1L122.44 40.72L122.43 41.4L122.42 42.09L122.39 42.75L122.32 43.34L122.19 43.82L121.99 44.15L121.74 44.37L121.44 44.52L121.12 44.63L120.79 44.73L120.47 44.87L120.15 45.04L119.82 45.21L119.48 45.38L119.14 45.54L118.79 45.69L118.45 45.83L118.13 45.96L117.82 46.08L117.51 46.2L117.18 46.3L116.83 46.4L116.44 46.48L115.99 46.56L115.48 46.64L114.95 46.7L114.42 46.75L113.9 46.78L113.43 46.79L112.98 46.79L112.55 46.78L112.13 46.75L111.74 46.69L111.41 46.59L111.14 46.43L110.94 46.21L110.8 45.91L110.7 45.57L110.65 45.22L110.63 44.87ZM110.25 52.62L110.28 52.34L110.34 52.07L110.42 51.81L110.54 51.57L110.7 51.35L110.92 51.15L111.21 50.99L111.55 50.88L111.95 50.78L112.37 50.69L112.82 50.58L113.27 50.44L113.74 50.28L114.24 50.1L114.76 49.9L115.29 49.69L115.82 49.47L116.34 49.23L116.87 48.98L117.4 48.7L117.94 48.41L118.46 48.12L118.95 47.82L119.41 47.53L119.84 47.24L120.25 46.93L120.64 46.63L120.99 46.34L121.29 46.08L121.55 45.86L121.75 45.64L121.89 45.4L121.99 45.2L122.06 45.06L122.11 45.03L122.17 45.16L122.21 45.48L122.24 45.96L122.26 46.56L122.26 47.22L122.25 47.91L122.23 48.56L122.21 49.23L122.2 49.97L122.16 50.71L122.1 51.43L122 52.06L121.85 52.56L121.63 52.9L121.36 53.12L121.05 53.26L120.72 53.35L120.39 53.44L120.06 53.57L119.73 53.72L119.38 53.87L119.03 54.02L118.67 54.16L118.32 54.29L117.97 54.41L117.64 54.51L117.32 54.61L117 54.71L116.67 54.79L116.31 54.86L115.91 54.91L115.45 54.96L114.94 55L114.41 55.02L113.87 55.04L113.35 55.03L112.88 55L112.44 54.97L112 54.92L111.59 54.87L111.21 54.78L110.88 54.65L110.63 54.48L110.44 54.24L110.32 53.94L110.26 53.61L110.23 53.26L110.23 52.92ZM109.34 60.78L109.38 60.5L109.44 60.22L109.54 59.95L109.67 59.7L109.85 59.48L110.08 59.29L110.37 59.14L110.72 59.03L111.12 58.95L111.55 58.88L112.01 58.8L112.47 58.68L112.95 58.54L113.46 58.38L113.99 58.22L114.53 58.04L115.08 57.85L115.61 57.65L116.15 57.43L116.7 57.19L117.26 56.94L117.8 56.69L118.32 56.43L118.79 56.17L119.24 55.91L119.68 55.64L120.09 55.36L120.46 55.1L120.79 54.85L121.06 54.65L121.27 54.44L121.43 54.21L121.55 54L121.63 53.86L121.68 53.84L121.73 53.98L121.75 54.31L121.74 54.8L121.71 55.41L121.66 56.08L121.59 56.76L121.53 57.4L121.46 58.04L121.4 58.75L121.33 59.47L121.23 60.15L121.1 60.75L120.92 61.23L120.69 61.55L120.41 61.75L120.1 61.86L119.77 61.94L119.43 62.01L119.1 62.12L118.76 62.26L118.41 62.39L118.05 62.52L117.7 62.64L117.34 62.76L116.98 62.86L116.65 62.96L116.32 63.05L116 63.13L115.67 63.2L115.31 63.26L114.91 63.3L114.45 63.34L113.94 63.36L113.41 63.37L112.87 63.37L112.35 63.35L111.88 63.31L111.44 63.26L111.01 63.21L110.59 63.13L110.22 63.04L109.89 62.9L109.64 62.72L109.47 62.47L109.36 62.15L109.3 61.81L109.29 61.44L109.3 61.1ZM108.22 69.08L108.27 68.79L108.34 68.51L108.43 68.24L108.57 67.99L108.75 67.77L108.98 67.58L109.28 67.43L109.64 67.33L110.03 67.26L110.47 67.19L110.92 67.12L111.39 67.01L111.87 66.87L112.38 66.73L112.92 66.57L113.46 66.4L114.01 66.22L114.55 66.03L115.09 65.82L115.65 65.6L116.21 65.36L116.75 65.12L117.28 64.88L117.76 64.64L118.22 64.39L118.66 64.14L119.07 63.88L119.45 63.63L119.78 63.4L120.06 63.21L120.28 63.01L120.45 62.8L120.57 62.6L120.65 62.47L120.71 62.45L120.75 62.58L120.76 62.91L120.74 63.39L120.69 63.97L120.63 64.62L120.55 65.29L120.47 65.91L120.39 66.55L120.31 67.25L120.23 67.96L120.12 68.63L119.98 69.22L119.8 69.69L119.56 70L119.28 70.2L118.97 70.31L118.64 70.38L118.3 70.45L117.96 70.55L117.62 70.68L117.27 70.81L116.91 70.94L116.55 71.05L116.19 71.16L115.84 71.26L115.5 71.35L115.18 71.44L114.85 71.52L114.52 71.58L114.16 71.63L113.76 71.67L113.3 71.7L112.79 71.72L112.26 71.72L111.72 71.71L111.2 71.69L110.73 71.64L110.29 71.59L109.86 71.53L109.44 71.45L109.07 71.35L108.75 71.21L108.5 71.02L108.33 70.77L108.22 70.45L108.17 70.1L108.16 69.74L108.18 69.39ZM107 77.37L107.06 77.08L107.13 76.8L107.23 76.54L107.37 76.29L107.55 76.07L107.78 75.88L108.08 75.74L108.44 75.65L108.84 75.58L109.27 75.52L109.73 75.44L110.19 75.34L110.67 75.21L111.19 75.07L111.73 74.92L112.27 74.76L112.82 74.58L113.36 74.4L113.91 74.19L114.47 73.98L115.03 73.75L115.58 73.51L116.11 73.28L116.59 73.04L117.05 72.81L117.49 72.55L117.91 72.3L118.29 72.06L118.63 71.84L118.91 71.65L119.14 71.46L119.3 71.24L119.43 71.05L119.51 70.92L119.57 70.9L119.61 71.04L119.62 71.36L119.59 71.83L119.53 72.42L119.46 73.07L119.37 73.73L119.28 74.35L119.2 74.98L119.12 75.68L119.02 76.39L118.91 77.06L118.76 77.65L118.57 78.12L118.33 78.43L118.05 78.62L117.74 78.73L117.4 78.8L117.06 78.86L116.73 78.96L116.39 79.09L116.03 79.21L115.68 79.33L115.31 79.45L114.95 79.55L114.6 79.65L114.26 79.74L113.93 79.82L113.61 79.89L113.27 79.95L112.91 80L112.51 80.03L112.05 80.05L111.54 80.06L111.01 80.06L110.47 80.04L109.96 80.01L109.49 79.95L109.05 79.89L108.61 79.82L108.2 79.74L107.83 79.63L107.51 79.49L107.26 79.3L107.09 79.05L106.99 78.73L106.95 78.39L106.94 78.03L106.96 77.68ZM105.63 85.49L105.69 85.22L105.77 84.94L105.88 84.69L106.02 84.45L106.21 84.24L106.46 84.06L106.76 83.93L107.11 83.85L107.52 83.79L107.95 83.75L108.41 83.69L108.88 83.6L109.36 83.49L109.88 83.36L110.42 83.23L110.97 83.08L111.52 82.92L112.07 82.75L112.62 82.56L113.18 82.35L113.75 82.13L114.3 81.91L114.83 81.68L115.32 81.45L115.79 81.22L116.23 80.97L116.66 80.72L117.04 80.48L117.38 80.26L117.67 80.08L117.89 79.89L118.06 79.67L118.19 79.48L118.27 79.35L118.33 79.33L118.37 79.47L118.37 79.79L118.34 80.27L118.27 80.86L118.19 81.52L118.09 82.18L117.99 82.82L117.89 83.46L117.79 84.17L117.68 84.89L117.54 85.57L117.37 86.17L117.17 86.64L116.91 86.95L116.62 87.13L116.31 87.23L115.97 87.29L115.63 87.34L115.29 87.43L114.94 87.54L114.59 87.66L114.22 87.77L113.86 87.87L113.49 87.96L113.13 88.04L112.79 88.12L112.46 88.19L112.14 88.25L111.8 88.3L111.43 88.33L111.03 88.35L110.57 88.35L110.06 88.34L109.53 88.32L108.99 88.28L108.48 88.23L108.01 88.16L107.57 88.08L107.14 88L106.73 87.9L106.37 87.78L106.05 87.62L105.81 87.43L105.65 87.17L105.57 86.85L105.53 86.5L105.54 86.14L105.58 85.8ZM103.97 93.65L104.04 93.37L104.13 93.1L104.24 92.84L104.39 92.6L104.59 92.39L104.84 92.22L105.14 92.09L105.5 92.02L105.91 91.97L106.34 91.93L106.8 91.89L107.27 91.81L107.76 91.71L108.28 91.6L108.83 91.48L109.38 91.34L109.94 91.2L110.49 91.05L111.05 90.88L111.62 90.69L112.19 90.49L112.75 90.29L113.29 90.08L113.79 89.87L114.26 89.65L114.72 89.42L115.15 89.19L115.54 88.97L115.89 88.76L116.18 88.59L116.42 88.4L116.59 88.19L116.73 88L116.82 87.88L116.88 87.86L116.91 88L116.9 88.32L116.85 88.8L116.76 89.39L116.65 90.04L116.53 90.7L116.4 91.32L116.29 91.96L116.16 92.65L116.03 93.35L115.88 94.02L115.7 94.6L115.48 95.06L115.22 95.36L114.93 95.53L114.61 95.62L114.27 95.67L113.93 95.71L113.59 95.79L113.24 95.9L112.88 96L112.52 96.1L112.15 96.2L111.78 96.28L111.42 96.36L111.08 96.43L110.75 96.49L110.42 96.54L110.09 96.58L109.72 96.61L109.32 96.63L108.86 96.62L108.35 96.6L107.82 96.57L107.28 96.52L106.77 96.46L106.3 96.39L105.87 96.3L105.44 96.21L105.03 96.11L104.66 95.98L104.35 95.81L104.12 95.61L103.96 95.35L103.88 95.03L103.85 94.67L103.87 94.31L103.91 93.96ZM102.19 101.85L102.26 101.57L102.35 101.29L102.47 101.03L102.62 100.8L102.82 100.59L103.07 100.42L103.38 100.3L103.74 100.22L104.14 100.18L104.58 100.15L105.04 100.11L105.51 100.04L106 99.94L106.52 99.84L107.07 99.72L107.63 99.6L108.19 99.46L108.74 99.31L109.3 99.15L109.87 98.97L110.45 98.78L111.01 98.58L111.55 98.39L112.05 98.19L112.53 97.98L112.98 97.76L113.42 97.54L113.82 97.32L114.17 97.12L114.46 96.96L114.7 96.78L114.88 96.58L115.02 96.39L115.11 96.27L115.17 96.25L115.2 96.39L115.19 96.71L115.13 97.18L115.03 97.77L114.91 98.41L114.78 99.06L114.65 99.67L114.52 100.3L114.39 100.99L114.25 101.69L114.09 102.35L113.9 102.93L113.68 103.38L113.42 103.67L113.12 103.84L112.8 103.93L112.47 103.98L112.12 104.02L111.78 104.09L111.43 104.19L111.07 104.29L110.71 104.39L110.34 104.48L109.97 104.56L109.61 104.63L109.27 104.7L108.94 104.76L108.61 104.81L108.27 104.85L107.91 104.87L107.5 104.88L107.04 104.87L106.54 104.85L106 104.81L105.47 104.76L104.95 104.69L104.49 104.61L104.05 104.52L103.63 104.42L103.22 104.31L102.85 104.18L102.55 104.02L102.31 103.81L102.16 103.54L102.08 103.22L102.06 102.87L102.08 102.51L102.13 102.16ZM100.32 110L100.39 109.73L100.49 109.46L100.61 109.2L100.77 108.97L100.97 108.76L101.22 108.59L101.52 108.48L101.89 108.41L102.29 108.37L102.73 108.35L103.19 108.31L103.66 108.25L104.15 108.16L104.67 108.06L105.22 107.95L105.78 107.83L106.34 107.7L106.89 107.56L107.45 107.4L108.03 107.23L108.61 107.05L109.18 106.86L109.72 106.66L110.22 106.47L110.7 106.27L111.16 106.05L111.59 105.83L112 105.62L112.35 105.43L112.64 105.26L112.88 105.09L113.07 104.89L113.2 104.7L113.3 104.58L113.36 104.57L113.38 104.71L113.37 105.03L113.3 105.5L113.2 106.08L113.07 106.72L112.94 107.37L112.8 107.98L112.67 108.61L112.53 109.3L112.38 110L112.21 110.66L112.01 111.24L111.79 111.69L111.52 111.98L111.23 112.15L110.9 112.23L110.57 112.28L110.22 112.31L109.88 112.38L109.53 112.48L109.17 112.58L108.8 112.67L108.43 112.75L108.06 112.83L107.7 112.9L107.35 112.96L107.02 113.01L106.7 113.05L106.36 113.09L105.99 113.11L105.59 113.11L105.13 113.09L104.62 113.06L104.09 113.01L103.56 112.95L103.05 112.87L102.58 112.78L102.15 112.69L101.72 112.58L101.32 112.47L100.95 112.33L100.65 112.16L100.42 111.95L100.27 111.68L100.2 111.36L100.18 111.01L100.2 110.66L100.25 110.31ZM98.28 117.93L98.37 117.67L98.47 117.41L98.6 117.16L98.77 116.94L98.97 116.75L99.23 116.6L99.54 116.5L99.9 116.45L100.31 116.43L100.74 116.42L101.2 116.4L101.67 116.36L102.17 116.29L102.7 116.21L103.24 116.12L103.81 116.02L104.37 115.9L104.93 115.78L105.49 115.63L106.07 115.48L106.65 115.3L107.22 115.12L107.77 114.94L108.28 114.75L108.76 114.56L109.22 114.35L109.66 114.13L110.07 113.93L110.43 113.74L110.72 113.57L110.96 113.4L111.15 113.2L111.29 113.02L111.39 112.9L111.45 112.88L111.47 113.02L111.45 113.34L111.38 113.82L111.27 114.4L111.13 115.05L110.97 115.71L110.82 116.34L110.67 116.98L110.51 117.68L110.33 118.39L110.14 119.07L109.92 119.66L109.67 120.11L109.39 120.4L109.08 120.56L108.76 120.63L108.42 120.66L108.07 120.68L107.72 120.74L107.37 120.82L107 120.91L106.63 120.98L106.26 121.05L105.88 121.11L105.52 121.16L105.17 121.2L104.84 121.24L104.51 121.27L104.17 121.29L103.8 121.29L103.4 121.27L102.94 121.23L102.44 121.17L101.9 121.1L101.37 121.01L100.87 120.91L100.41 120.79L99.98 120.67L99.56 120.55L99.16 120.41L98.81 120.26L98.51 120.07L98.29 119.85L98.16 119.58L98.1 119.26L98.1 118.92L98.14 118.56L98.2 118.23ZM95.85 125.99L95.94 125.7L96.06 125.42L96.2 125.16L96.37 124.93L96.59 124.73L96.85 124.57L97.16 124.47L97.53 124.42L97.94 124.41L98.38 124.41L98.84 124.4L99.32 124.36L99.81 124.31L100.35 124.24L100.9 124.17L101.47 124.09L102.03 124L102.6 123.9L103.17 123.78L103.76 123.65L104.35 123.51L104.93 123.36L105.48 123.2L106 123.04L106.49 122.87L106.97 122.69L107.42 122.49L107.83 122.31L108.2 122.13L108.51 121.98L108.76 121.82L108.95 121.62L109.1 121.44L109.21 121.32L109.27 121.31L109.29 121.46L109.25 121.78L109.15 122.26L109 122.84L108.83 123.48L108.64 124.13L108.46 124.74L108.28 125.35L108.1 126.02L107.9 126.7L107.69 127.33L107.46 127.88L107.21 128.3L106.93 128.56L106.63 128.71L106.31 128.77L105.97 128.79L105.62 128.8L105.28 128.85L104.92 128.92L104.56 129L104.19 129.07L103.82 129.13L103.45 129.19L103.08 129.23L102.73 129.28L102.4 129.32L102.07 129.35L101.73 129.37L101.37 129.37L100.97 129.36L100.51 129.33L100 129.28L99.47 129.22L98.94 129.14L98.43 129.05L97.97 128.95L97.54 128.84L97.11 128.72L96.71 128.59L96.36 128.44L96.06 128.26L95.84 128.03L95.7 127.75L95.64 127.41L95.64 127.04L95.69 126.67L95.76 126.31ZM93.63 134.37L93.71 134.09L93.8 133.82L93.93 133.56L94.09 133.32L94.3 133.12L94.55 132.95L94.86 132.83L95.22 132.77L95.63 132.74L96.07 132.72L96.53 132.69L97 132.63L97.5 132.55L98.02 132.46L98.57 132.36L99.13 132.26L99.7 132.14L100.25 132.02L100.82 131.88L101.4 131.72L101.98 131.56L102.55 131.4L103.1 131.23L103.61 131.07L104.09 130.89L104.56 130.71L105 130.52L105.41 130.34L105.77 130.18L106.08 130.04L106.32 129.88L106.51 129.7L106.66 129.54L106.76 129.43L106.82 129.42L106.84 129.55L106.81 129.86L106.72 130.31L106.59 130.85L106.45 131.46L106.29 132.07L106.13 132.65L105.99 133.25L105.84 133.91L105.68 134.58L105.5 135.22L105.3 135.78L105.07 136.22L104.8 136.5L104.51 136.66L104.18 136.74L103.85 136.77L103.5 136.8L103.16 136.87L102.81 136.96L102.45 137.05L102.08 137.14L101.71 137.22L101.34 137.29L100.98 137.35L100.63 137.41L100.3 137.46L99.97 137.5L99.63 137.53L99.27 137.55L98.87 137.54L98.41 137.52L97.9 137.49L97.37 137.43L96.83 137.37L96.32 137.29L95.86 137.19L95.43 137.09L95 136.98L94.6 136.86L94.24 136.72L93.93 136.55L93.7 136.34L93.56 136.07L93.49 135.75L93.47 135.39L93.5 135.03L93.56 134.68ZM91.53 142.23L91.62 141.98L91.72 141.73L91.85 141.5L92.02 141.29L92.23 141.11L92.48 140.96L92.79 140.87L93.15 140.82L93.56 140.81L94 140.81L94.45 140.8L94.93 140.76L95.42 140.69L95.95 140.62L96.5 140.53L97.06 140.44L97.62 140.33L98.18 140.21L98.75 140.07L99.33 139.92L99.91 139.75L100.48 139.57L101.03 139.39L101.54 139.21L102.02 139.02L102.49 138.82L102.93 138.61L103.34 138.4L103.69 138.22L103.99 138.06L104.23 137.89L104.42 137.7L104.56 137.52L104.66 137.4L104.72 137.39L104.75 137.52L104.72 137.84L104.65 138.31L104.53 138.89L104.39 139.54L104.23 140.19L104.07 140.81L103.91 141.45L103.75 142.16L103.57 142.87L103.36 143.56L103.13 144.15L102.88 144.61L102.59 144.91L102.28 145.07L101.95 145.15L101.61 145.17L101.26 145.19L100.91 145.24L100.56 145.33L100.19 145.4L99.81 145.48L99.44 145.54L99.06 145.59L98.69 145.63L98.34 145.67L98.01 145.7L97.68 145.72L97.34 145.72L96.98 145.71L96.57 145.68L96.12 145.62L95.62 145.54L95.09 145.44L94.56 145.33L94.06 145.2L93.61 145.07L93.19 144.93L92.77 144.79L92.38 144.64L92.03 144.47L91.74 144.28L91.53 144.06L91.4 143.79L91.34 143.49L91.34 143.16L91.39 142.83L91.46 142.51ZM88.74 149.49L88.86 149.23L89 148.98L89.17 148.76L89.36 148.57L89.59 148.41L89.87 148.3L90.19 148.24L90.56 148.24L90.96 148.28L91.39 148.33L91.85 148.38L92.33 148.4L92.83 148.4L93.36 148.39L93.91 148.38L94.48 148.35L95.06 148.31L95.63 148.26L96.2 148.18L96.8 148.09L97.4 147.98L97.99 147.86L98.56 147.73L99.09 147.58L99.59 147.43L100.08 147.25L100.54 147.06L100.97 146.87L101.34 146.7L101.66 146.54L101.91 146.38L102.12 146.18L102.28 145.99L102.38 145.87L102.44 145.86L102.46 146.01L102.41 146.35L102.29 146.85L102.12 147.46L101.9 148.14L101.67 148.83L101.43 149.47L101.19 150.13L100.92 150.84L100.64 151.55L100.35 152.22L100.04 152.78L99.73 153.2L99.41 153.44L99.09 153.56L98.75 153.59L98.41 153.57L98.07 153.54L97.71 153.55L97.35 153.58L96.98 153.61L96.6 153.63L96.22 153.65L95.84 153.66L95.47 153.66L95.12 153.65L94.79 153.64L94.46 153.63L94.12 153.6L93.76 153.56L93.36 153.49L92.91 153.39L92.41 153.27L91.9 153.13L91.38 152.98L90.89 152.81L90.45 152.64L90.04 152.47L89.63 152.3L89.26 152.12L88.92 151.91L88.65 151.69L88.47 151.44L88.37 151.15L88.36 150.81L88.41 150.46L88.5 150.1L88.62 149.77ZM85.35 157.63L85.46 157.34L85.59 157.06L85.75 156.8L85.95 156.57L86.18 156.38L86.45 156.23L86.78 156.15L87.15 156.12L87.56 156.14L88 156.17L88.46 156.19L88.94 156.19L89.44 156.17L89.98 156.15L90.54 156.12L91.11 156.09L91.69 156.05L92.26 156.01L92.84 155.95L93.43 155.88L94.04 155.81L94.63 155.73L95.19 155.64L95.72 155.55L96.23 155.45L96.72 155.33L97.19 155.21L97.62 155.08L98.01 154.96L98.33 154.86L98.6 154.74L98.82 154.58L98.99 154.43L99.11 154.33L99.17 154.32L99.17 154.46L99.09 154.77L98.93 155.22L98.72 155.76L98.48 156.34L98.23 156.93L97.99 157.48L97.76 158.03L97.53 158.64L97.29 159.25L97.04 159.83L96.79 160.34L96.52 160.72L96.23 160.95L95.92 161.07L95.59 161.1L95.26 161.09L94.91 161.08L94.56 161.11L94.21 161.16L93.84 161.21L93.47 161.25L93.09 161.29L92.72 161.32L92.36 161.35L92.01 161.37L91.68 161.38L91.35 161.39L91.01 161.39L90.64 161.37L90.24 161.34L89.79 161.27L89.28 161.19L88.76 161.1L88.23 160.98L87.73 160.86L87.28 160.73L86.85 160.59L86.44 160.45L86.05 160.29L85.7 160.12L85.41 159.92L85.2 159.68L85.09 159.39L85.05 159.05L85.08 158.68L85.15 158.3L85.24 157.94ZM82.57 165.82L82.67 165.54L82.78 165.27L82.93 165.02L83.11 164.79L83.33 164.6L83.59 164.45L83.91 164.36L84.28 164.33L84.69 164.32L85.13 164.34L85.59 164.34L86.06 164.32L86.56 164.27L87.09 164.22L87.65 164.16L88.22 164.1L88.79 164.02L89.35 163.94L89.92 163.84L90.51 163.73L91.11 163.6L91.69 163.48L92.25 163.34L92.77 163.21L93.26 163.07L93.74 162.91L94.19 162.75L94.61 162.6L94.98 162.46L95.29 162.34L95.54 162.2L95.75 162.04L95.9 161.88L96.01 161.78L96.07 161.78L96.08 161.91L96.03 162.21L95.92 162.65L95.76 163.19L95.57 163.78L95.37 164.39L95.18 164.97L94.99 165.56L94.79 166.22L94.58 166.88L94.35 167.51L94.11 168.06L93.85 168.47L93.56 168.74L93.26 168.87L92.93 168.93L92.59 168.94L92.24 168.94L91.9 168.98L91.54 169.05L91.17 169.11L90.8 169.17L90.42 169.22L90.05 169.27L89.69 169.31L89.34 169.34L89 169.36L88.67 169.38L88.33 169.39L87.97 169.38L87.57 169.35L87.11 169.3L86.61 169.23L86.08 169.14L85.55 169.04L85.05 168.93L84.59 168.8L84.17 168.68L83.75 168.54L83.35 168.4L83 168.23L82.71 168.04L82.5 167.81L82.37 167.53L82.32 167.19L82.34 166.84L82.39 166.47L82.47 166.12ZM79.96 173.88L80.06 173.6L80.17 173.34L80.32 173.09L80.49 172.87L80.71 172.68L80.97 172.53L81.29 172.44L81.66 172.4L82.06 172.4L82.5 172.4L82.96 172.41L83.44 172.38L83.93 172.33L84.47 172.28L85.02 172.21L85.59 172.14L86.16 172.06L86.72 171.97L87.29 171.86L87.88 171.74L88.47 171.61L89.05 171.47L89.61 171.33L90.13 171.18L90.62 171.02L91.1 170.85L91.55 170.68L91.97 170.51L92.34 170.35L92.65 170.22L92.9 170.07L93.1 169.89L93.25 169.73L93.36 169.62L93.42 169.61L93.43 169.75L93.39 170.06L93.28 170.52L93.13 171.08L92.95 171.69L92.75 172.32L92.56 172.91L92.38 173.52L92.18 174.18L91.98 174.86L91.76 175.5L91.52 176.06L91.26 176.48L90.97 176.75L90.66 176.89L90.33 176.95L89.99 176.96L89.65 176.96L89.3 177.01L88.95 177.08L88.58 177.14L88.21 177.2L87.83 177.26L87.46 177.31L87.09 177.34L86.74 177.37L86.41 177.4L86.08 177.42L85.74 177.43L85.37 177.42L84.97 177.39L84.51 177.34L84.01 177.27L83.48 177.18L82.95 177.08L82.45 176.97L81.99 176.85L81.57 176.72L81.15 176.58L80.75 176.44L80.4 176.27L80.11 176.08L79.9 175.85L79.77 175.57L79.72 175.24L79.73 174.89L79.79 174.53L79.87 174.18Z" fill="#4472c4"/>
<text x="64.6" y="107.9" font-size="10.2" textLength="13.8" lengthAdjust="spacingAndGlyphs" fill="#0d1322" stroke="#0d1322" stroke-width="0.3">IRF</text>
<text x="68.3" y="10.8" style="font-family:'Liberation Serif',serif" font-size="8.6" textLength="21.6" lengthAdjust="spacingAndGlyphs" fill="#1c1c1c">BATF/</text>
<text x="68.3" y="19.7" style="font-family:'Liberation Serif',serif" font-size="8.6" textLength="27.6" lengthAdjust="spacingAndGlyphs" fill="#1c1c1c">BATF2/</text>
<text x="68.3" y="28.4" style="font-family:'Liberation Serif',serif" font-size="8.6" textLength="25.1" lengthAdjust="spacingAndGlyphs" fill="#1c1c1c">BATF3</text>
<text x="130" y="19.6" style="font-family:'Liberation Serif',serif" font-size="8.6" textLength="21.6" lengthAdjust="spacingAndGlyphs" fill="#1c1c1c">JUNB</text>
<g fill="#f4b183"><ellipse cx="289.18" cy="20.9" rx="4.9" ry="2.7" transform="rotate(0.08 289.18 20.9)"/><ellipse cx="289.18" cy="29.35" rx="4.9" ry="2.7" transform="rotate(-0.03 289.18 29.35)"/><ellipse cx="289.21" cy="37.8" rx="4.9" ry="2.7" transform="rotate(-0.24 289.21 37.8)"/><ellipse cx="289.22" cy="46.25" rx="4.9" ry="2.7" transform="rotate(-0.19 289.22 46.25)"/><ellipse cx="289.4" cy="54.71" rx="4.9" ry="2.7" transform="rotate(-2.38 289.4 54.71)"/><ellipse cx="290.16" cy="63.15" rx="4.9" ry="2.7" transform="rotate(-6.98 290.16 63.15)"/><ellipse cx="291.42" cy="71.51" rx="4.9" ry="2.7" transform="rotate(-8.92 291.42 71.51)"/><ellipse cx="292.88" cy="79.84" rx="4.9" ry="2.7" transform="rotate(-10.55 292.88 79.84)"/><ellipse cx="294.31" cy="88.16" rx="4.9" ry="2.7" transform="rotate(-8.58 294.31 88.16)"/><ellipse cx="295.25" cy="96.54" rx="4.9" ry="2.7" transform="rotate(-5.36 295.25 96.54)"/><ellipse cx="295.99" cy="104.96" rx="4.9" ry="2.7" transform="rotate(-5.3 295.99 104.96)"/><ellipse cx="297.04" cy="113.36" rx="4.9" ry="2.7" transform="rotate(-9.08 297.04 113.36)"/><ellipse cx="298.8" cy="121.64" rx="4.9" ry="2.7" transform="rotate(-13.03 298.8 121.64)"/><ellipse cx="300.45" cy="129.91" rx="4.9" ry="2.7" transform="rotate(-9.47 300.45 129.91)"/><ellipse cx="302.18" cy="138.2" rx="4.9" ry="2.7" transform="rotate(-14.99 302.18 138.2)"/><ellipse cx="304.72" cy="146.28" rx="4.9" ry="2.7" transform="rotate(-18.09 304.72 146.28)"/><ellipse cx="307.47" cy="154.28" rx="4.9" ry="2.7" transform="rotate(-19.57 307.47 154.28)"/><ellipse cx="310.19" cy="162.26" rx="4.9" ry="2.7" transform="rotate(-18.06 310.19 162.26)"/><ellipse cx="312.73" cy="170.32" rx="4.9" ry="2.7" transform="rotate(-17.35 312.73 170.32)"/><ellipse cx="315.91" cy="177.87" rx="3.8" ry="2.3" transform="rotate(-62.26 315.91 177.87)"/></g><path d="M295.29 17.06L295.28 16.82L295.24 16.59L295.16 16.36L295.05 16.14L294.9 15.94L294.69 15.76L294.43 15.61L294.11 15.48L293.74 15.36L293.34 15.26L292.92 15.16L292.49 15.06L292.03 14.96L291.53 14.87L291.01 14.79L290.49 14.7L289.97 14.59L289.49 14.45L289.03 14.28L288.58 14.08L288.14 13.86L287.72 13.63L287.34 13.39L287 13.15L286.7 12.89L286.44 12.62L286.22 12.35L286.03 12.07L285.85 11.8L285.7 11.54L285.57 11.27L285.48 10.96L285.41 10.65L285.35 10.4L285.29 10.25L285.2 10.24L285.09 10.42L284.98 10.76L284.85 11.19L284.73 11.67L284.61 12.14L284.5 12.54L284.38 12.9L284.27 13.26L284.16 13.6L284.06 13.94L283.97 14.25L283.89 14.54L283.82 14.8L283.74 15.04L283.67 15.25L283.63 15.45L283.65 15.65L283.74 15.84L283.92 16.02L284.17 16.19L284.48 16.35L284.82 16.51L285.16 16.67L285.49 16.84L285.81 17.03L286.14 17.22L286.47 17.41L286.81 17.6L287.15 17.78L287.49 17.95L287.81 18.09L288.12 18.23L288.42 18.35L288.75 18.46L289.09 18.56L289.49 18.65L289.94 18.73L290.44 18.79L290.97 18.84L291.51 18.88L292.02 18.9L292.49 18.9L292.92 18.9L293.34 18.88L293.74 18.84L294.1 18.78L294.42 18.69L294.69 18.56L294.89 18.37L295.05 18.14L295.16 17.87L295.24 17.59L295.28 17.31ZM295.33 25.6L295.32 25.31L295.29 25.02L295.23 24.74L295.13 24.47L294.98 24.23L294.78 24L294.51 23.82L294.17 23.67L293.78 23.54L293.36 23.41L292.92 23.27L292.48 23.1L292.02 22.9L291.53 22.69L291.02 22.46L290.51 22.22L289.99 21.96L289.48 21.7L288.97 21.42L288.45 21.12L287.93 20.82L287.42 20.5L286.93 20.2L286.48 19.9L286.06 19.59L285.66 19.28L285.29 18.97L284.94 18.68L284.64 18.42L284.39 18.19L284.19 17.97L284.06 17.74L283.97 17.53L283.9 17.39L283.84 17.36L283.79 17.49L283.73 17.8L283.69 18.28L283.66 18.86L283.65 19.51L283.64 20.17L283.63 20.79L283.62 21.43L283.6 22.12L283.59 22.83L283.6 23.51L283.66 24.11L283.78 24.6L283.97 24.94L284.22 25.17L284.51 25.32L284.83 25.44L285.16 25.55L285.48 25.7L285.79 25.87L286.12 26.05L286.46 26.22L286.8 26.39L287.14 26.55L287.48 26.7L287.8 26.84L288.11 26.97L288.42 27.09L288.74 27.2L289.09 27.3L289.48 27.4L289.93 27.49L290.43 27.58L290.96 27.66L291.49 27.73L292.01 27.78L292.48 27.8L292.92 27.81L293.36 27.81L293.78 27.79L294.17 27.74L294.5 27.65L294.78 27.5L294.98 27.27L295.13 26.97L295.23 26.63L295.29 26.27L295.32 25.92ZM295.34 34.03L295.33 33.74L295.3 33.45L295.24 33.17L295.14 32.9L294.99 32.66L294.78 32.44L294.51 32.25L294.17 32.11L293.79 31.98L293.37 31.85L292.93 31.71L292.48 31.54L292.02 31.35L291.53 31.13L291.02 30.9L290.51 30.66L289.99 30.41L289.48 30.15L288.97 29.87L288.45 29.58L287.92 29.27L287.41 28.96L286.93 28.65L286.48 28.35L286.06 28.05L285.66 27.74L285.28 27.43L284.93 27.14L284.63 26.87L284.38 26.65L284.19 26.43L284.05 26.19L283.96 25.99L283.89 25.85L283.83 25.82L283.78 25.95L283.72 26.26L283.68 26.73L283.66 27.32L283.64 27.97L283.63 28.63L283.63 29.25L283.62 29.89L283.6 30.59L283.59 31.3L283.61 31.98L283.67 32.58L283.79 33.07L283.98 33.41L284.23 33.64L284.52 33.79L284.84 33.91L285.17 34.02L285.49 34.17L285.81 34.34L286.13 34.52L286.47 34.69L286.81 34.85L287.16 35.01L287.49 35.16L287.82 35.29L288.12 35.42L288.43 35.54L288.75 35.65L289.1 35.76L289.5 35.85L289.95 35.94L290.45 36.03L290.98 36.11L291.51 36.17L292.03 36.22L292.5 36.24L292.94 36.24L293.38 36.24L293.8 36.23L294.19 36.17L294.52 36.08L294.8 35.93L295 35.7L295.15 35.4L295.25 35.06L295.3 34.7L295.33 34.34ZM295.36 42.49L295.36 42.2L295.33 41.91L295.27 41.63L295.17 41.36L295.02 41.12L294.81 40.89L294.54 40.71L294.2 40.56L293.82 40.43L293.4 40.3L292.96 40.16L292.51 39.99L292.05 39.79L291.56 39.58L291.06 39.35L290.54 39.11L290.02 38.86L289.51 38.6L289 38.32L288.47 38.03L287.95 37.72L287.44 37.42L286.95 37.11L286.5 36.81L286.08 36.51L285.68 36.21L285.3 35.9L284.95 35.61L284.65 35.34L284.39 35.12L284.2 34.9L284.06 34.67L283.97 34.46L283.9 34.32L283.85 34.3L283.79 34.42L283.74 34.74L283.7 35.21L283.67 35.79L283.66 36.44L283.66 37.1L283.66 37.72L283.65 38.36L283.63 39.05L283.62 39.75L283.64 40.42L283.7 41.02L283.81 41.51L284 41.85L284.25 42.08L284.55 42.23L284.87 42.35L285.2 42.46L285.51 42.6L285.83 42.78L286.16 42.96L286.5 43.13L286.84 43.3L287.18 43.45L287.51 43.6L287.84 43.74L288.14 43.87L288.45 43.99L288.77 44.1L289.12 44.2L289.52 44.3L289.97 44.39L290.47 44.48L291 44.56L291.53 44.62L292.04 44.67L292.52 44.69L292.96 44.7L293.4 44.7L293.82 44.68L294.2 44.63L294.54 44.54L294.82 44.39L295.02 44.16L295.17 43.86L295.27 43.52L295.33 43.16L295.36 42.81ZM295.42 50.82L295.41 50.53L295.37 50.25L295.31 49.98L295.21 49.72L295.05 49.49L294.85 49.27L294.57 49.09L294.23 48.95L293.84 48.83L293.42 48.71L292.98 48.58L292.53 48.42L292.07 48.22L291.58 48.01L291.07 47.79L290.55 47.56L290.03 47.31L289.52 47.05L289.01 46.78L288.49 46.48L287.96 46.18L287.45 45.87L286.97 45.56L286.52 45.26L286.1 44.96L285.69 44.65L285.32 44.34L284.97 44.05L284.67 43.78L284.41 43.56L284.22 43.34L284.09 43.1L283.99 42.89L283.93 42.76L283.87 42.73L283.81 42.86L283.76 43.17L283.72 43.64L283.69 44.23L283.68 44.88L283.67 45.55L283.67 46.18L283.66 46.82L283.65 47.53L283.64 48.25L283.66 48.94L283.73 49.56L283.86 50.05L284.05 50.4L284.31 50.63L284.6 50.78L284.93 50.89L285.25 51L285.58 51.14L285.9 51.31L286.23 51.49L286.57 51.65L286.92 51.81L287.26 51.97L287.6 52.11L287.93 52.24L288.24 52.36L288.55 52.47L288.87 52.57L289.23 52.67L289.62 52.75L290.07 52.83L290.58 52.9L291.11 52.96L291.65 53.01L292.16 53.03L292.63 53.04L293.08 53.03L293.52 53.02L293.94 52.98L294.32 52.92L294.65 52.82L294.92 52.67L295.12 52.44L295.26 52.15L295.35 51.82L295.4 51.47L295.42 51.13ZM295.85 58.83L295.82 58.56L295.77 58.29L295.68 58.03L295.56 57.79L295.4 57.57L295.18 57.38L294.89 57.22L294.54 57.11L294.15 57.01L293.72 56.92L293.27 56.82L292.82 56.69L292.35 56.52L291.85 56.35L291.33 56.15L290.79 55.95L290.26 55.73L289.74 55.5L289.22 55.25L288.68 54.98L288.14 54.69L287.62 54.4L287.12 54.11L286.66 53.82L286.23 53.53L285.81 53.23L285.42 52.92L285.07 52.63L284.76 52.37L284.5 52.15L284.3 51.92L284.16 51.68L284.06 51.47L283.99 51.33L283.94 51.31L283.88 51.44L283.84 51.76L283.81 52.25L283.8 52.86L283.81 53.53L283.82 54.22L283.85 54.88L283.87 55.55L283.9 56.28L283.93 57.02L284 57.74L284.1 58.37L284.26 58.87L284.48 59.21L284.75 59.43L285.06 59.57L285.39 59.66L285.73 59.74L286.06 59.87L286.39 60.02L286.73 60.17L287.09 60.31L287.44 60.45L287.8 60.57L288.15 60.69L288.49 60.8L288.81 60.89L289.13 60.98L289.46 61.06L289.82 61.12L290.22 61.18L290.67 61.22L291.18 61.25L291.72 61.27L292.26 61.27L292.77 61.26L293.24 61.23L293.68 61.18L294.12 61.13L294.54 61.07L294.91 60.98L295.24 60.85L295.49 60.68L295.67 60.44L295.79 60.14L295.85 59.81L295.88 59.47L295.87 59.13ZM296.92 66.87L296.87 66.58L296.79 66.31L296.69 66.04L296.55 65.8L296.37 65.58L296.13 65.39L295.84 65.26L295.48 65.16L295.08 65.09L294.65 65.03L294.19 64.96L293.73 64.86L293.24 64.73L292.73 64.59L292.2 64.44L291.65 64.27L291.1 64.09L290.56 63.9L290.02 63.7L289.46 63.47L288.9 63.23L288.35 62.98L287.83 62.73L287.35 62.48L286.9 62.22L286.46 61.95L286.05 61.68L285.67 61.41L285.34 61.17L285.06 60.96L284.85 60.75L284.69 60.52L284.57 60.31L284.49 60.17L284.43 60.15L284.39 60.29L284.37 60.62L284.38 61.13L284.42 61.74L284.48 62.42L284.56 63.11L284.64 63.76L284.72 64.42L284.8 65.14L284.89 65.87L285.01 66.56L285.16 67.16L285.35 67.63L285.59 67.94L285.87 68.14L286.19 68.25L286.52 68.31L286.86 68.37L287.2 68.47L287.54 68.6L287.89 68.72L288.25 68.84L288.62 68.96L288.98 69.06L289.33 69.16L289.67 69.24L290 69.32L290.32 69.39L290.66 69.46L291.02 69.5L291.42 69.54L291.88 69.56L292.39 69.57L292.92 69.57L293.46 69.55L293.98 69.52L294.44 69.47L294.88 69.41L295.32 69.35L295.73 69.26L296.1 69.16L296.42 69.01L296.67 68.82L296.84 68.57L296.94 68.25L296.98 67.89L296.99 67.53L296.96 67.18ZM298.25 75.07L298.19 74.79L298.11 74.52L298.01 74.26L297.86 74.02L297.68 73.81L297.44 73.63L297.14 73.5L296.78 73.41L296.38 73.35L295.94 73.3L295.49 73.24L295.02 73.15L294.54 73.03L294.02 72.9L293.48 72.75L292.93 72.6L292.38 72.43L291.84 72.26L291.29 72.06L290.73 71.85L290.17 71.63L289.62 71.4L289.09 71.17L288.6 70.94L288.14 70.71L287.69 70.46L287.27 70.22L286.89 69.98L286.55 69.77L286.26 69.58L286.04 69.39L285.87 69.18L285.74 68.99L285.65 68.86L285.6 68.85L285.56 68.98L285.55 69.3L285.59 69.77L285.65 70.35L285.74 71L285.83 71.66L285.93 72.28L286.01 72.92L286.1 73.62L286.21 74.34L286.34 75.02L286.5 75.63L286.7 76.1L286.95 76.41L287.24 76.6L287.55 76.7L287.89 76.76L288.23 76.82L288.57 76.91L288.92 77.03L289.27 77.14L289.63 77.26L290 77.36L290.37 77.46L290.72 77.54L291.07 77.62L291.39 77.69L291.72 77.76L292.05 77.81L292.42 77.85L292.82 77.87L293.28 77.88L293.79 77.88L294.32 77.86L294.86 77.83L295.38 77.78L295.84 77.72L296.28 77.64L296.71 77.57L297.12 77.47L297.49 77.35L297.81 77.2L298.05 77L298.21 76.75L298.3 76.43L298.34 76.08L298.33 75.72L298.3 75.37ZM299.79 83.43L299.73 83.13L299.65 82.85L299.54 82.57L299.39 82.32L299.2 82.09L298.96 81.91L298.66 81.77L298.3 81.68L297.9 81.62L297.46 81.57L297 81.51L296.53 81.41L296.05 81.3L295.53 81.17L294.98 81.04L294.43 80.89L293.87 80.74L293.33 80.57L292.77 80.39L292.21 80.2L291.63 79.99L291.08 79.78L290.54 79.57L290.05 79.35L289.58 79.13L289.12 78.9L288.7 78.67L288.3 78.44L287.96 78.23L287.67 78.05L287.44 77.87L287.26 77.66L287.13 77.47L287.04 77.34L286.98 77.32L286.95 77.46L286.95 77.78L287 78.26L287.08 78.85L287.18 79.49L287.3 80.15L287.41 80.76L287.52 81.38L287.62 82.06L287.74 82.75L287.87 83.4L288.03 83.97L288.23 84.41L288.48 84.71L288.76 84.88L289.08 84.98L289.41 85.04L289.75 85.09L290.09 85.18L290.43 85.3L290.79 85.41L291.15 85.52L291.51 85.63L291.87 85.73L292.23 85.82L292.57 85.9L292.89 85.98L293.22 86.05L293.55 86.11L293.91 86.15L294.31 86.19L294.77 86.21L295.28 86.22L295.82 86.22L296.36 86.2L296.87 86.17L297.34 86.12L297.78 86.06L298.22 86L298.63 85.91L299 85.8L299.32 85.66L299.56 85.46L299.73 85.19L299.83 84.86L299.87 84.5L299.87 84.12L299.83 83.76ZM301 92.16L300.96 91.86L300.9 91.56L300.81 91.28L300.68 91.01L300.5 90.77L300.27 90.57L299.98 90.41L299.63 90.3L299.23 90.21L298.79 90.13L298.34 90.04L297.88 89.92L297.4 89.78L296.88 89.62L296.35 89.46L295.81 89.28L295.26 89.1L294.72 88.91L294.18 88.7L293.62 88.48L293.06 88.26L292.51 88.03L291.98 87.8L291.49 87.58L291.04 87.35L290.59 87.11L290.17 86.88L289.79 86.65L289.45 86.45L289.16 86.27L288.94 86.09L288.77 85.89L288.64 85.71L288.55 85.59L288.49 85.57L288.46 85.7L288.45 86.01L288.49 86.47L288.55 87.02L288.63 87.64L288.72 88.26L288.8 88.85L288.88 89.45L288.95 90.11L289.03 90.78L289.12 91.42L289.24 91.98L289.41 92.43L289.64 92.73L289.91 92.93L290.22 93.04L290.55 93.12L290.89 93.19L291.22 93.3L291.55 93.44L291.89 93.58L292.25 93.71L292.6 93.84L292.96 93.96L293.31 94.07L293.64 94.18L293.96 94.28L294.28 94.36L294.61 94.44L294.97 94.51L295.36 94.57L295.82 94.62L296.33 94.66L296.86 94.69L297.4 94.71L297.92 94.7L298.39 94.68L298.83 94.65L299.27 94.61L299.68 94.55L300.06 94.46L300.39 94.34L300.65 94.16L300.83 93.91L300.95 93.59L301.01 93.23L301.04 92.85L301.03 92.49ZM301.78 100.68L301.75 100.4L301.69 100.11L301.61 99.84L301.49 99.58L301.32 99.34L301.1 99.14L300.81 98.98L300.46 98.86L300.06 98.77L299.63 98.68L299.18 98.57L298.73 98.44L298.25 98.28L297.75 98.11L297.22 97.93L296.68 97.73L296.14 97.53L295.62 97.31L295.08 97.08L294.54 96.83L293.99 96.57L293.45 96.31L292.94 96.05L292.47 95.8L292.02 95.54L291.59 95.27L291.19 95.01L290.82 94.76L290.49 94.53L290.22 94.34L290 94.14L289.85 93.93L289.73 93.74L289.65 93.61L289.6 93.59L289.55 93.72L289.53 94.03L289.53 94.49L289.56 95.06L289.61 95.69L289.66 96.33L289.71 96.95L289.76 97.57L289.8 98.26L289.85 98.96L289.92 99.63L290.03 100.22L290.19 100.69L290.41 101.02L290.68 101.22L290.98 101.35L291.31 101.44L291.65 101.52L291.98 101.64L292.31 101.79L292.65 101.94L293 102.08L293.35 102.22L293.71 102.35L294.06 102.47L294.39 102.58L294.71 102.68L295.02 102.77L295.35 102.85L295.71 102.93L296.11 102.99L296.57 103.04L297.07 103.08L297.61 103.12L298.15 103.13L298.66 103.13L299.13 103.11L299.58 103.08L300.01 103.05L300.43 102.99L300.81 102.91L301.14 102.78L301.4 102.61L301.58 102.37L301.7 102.06L301.77 101.71L301.8 101.35L301.8 101ZM302.59 108.86L302.55 108.59L302.49 108.32L302.4 108.07L302.27 107.82L302.09 107.61L301.87 107.42L301.57 107.27L301.22 107.17L300.83 107.08L300.4 107.01L299.95 106.92L299.49 106.8L299.01 106.65L298.5 106.49L297.97 106.32L297.43 106.13L296.89 105.94L296.36 105.73L295.83 105.5L295.28 105.25L294.73 105L294.19 104.73L293.68 104.47L293.21 104.21L292.76 103.95L292.33 103.67L291.93 103.4L291.56 103.13L291.24 102.89L290.96 102.69L290.75 102.49L290.6 102.26L290.49 102.06L290.41 101.93L290.35 101.91L290.3 102.04L290.28 102.36L290.28 102.84L290.3 103.43L290.35 104.08L290.4 104.75L290.45 105.39L290.51 106.03L290.56 106.75L290.62 107.47L290.71 108.17L290.83 108.79L291.01 109.28L291.24 109.61L291.51 109.82L291.83 109.94L292.16 110.02L292.5 110.1L292.83 110.21L293.17 110.35L293.52 110.49L293.87 110.62L294.23 110.75L294.59 110.87L294.95 110.97L295.29 111.06L295.61 111.15L295.93 111.23L296.27 111.29L296.63 111.35L297.03 111.39L297.49 111.41L298 111.43L298.53 111.43L299.07 111.41L299.58 111.38L300.05 111.33L300.49 111.27L300.93 111.21L301.34 111.13L301.71 111.03L302.03 110.89L302.28 110.71L302.46 110.47L302.56 110.17L302.62 109.84L302.63 109.49L302.62 109.16ZM303.96 116.68L303.89 116.41L303.81 116.14L303.69 115.89L303.54 115.66L303.35 115.46L303.1 115.3L302.8 115.18L302.44 115.11L302.04 115.06L301.6 115.02L301.15 114.98L300.68 114.9L300.19 114.8L299.67 114.68L299.13 114.56L298.58 114.42L298.02 114.27L297.47 114.1L296.92 113.92L296.35 113.71L295.79 113.49L295.23 113.26L294.7 113.03L294.21 112.8L293.75 112.55L293.3 112.29L292.88 112.03L292.49 111.78L292.15 111.54L291.87 111.34L291.65 111.14L291.48 110.91L291.36 110.71L291.28 110.57L291.22 110.55L291.18 110.69L291.17 111.03L291.19 111.53L291.26 112.15L291.34 112.83L291.44 113.53L291.55 114.19L291.66 114.86L291.77 115.59L291.9 116.33L292.05 117.03L292.24 117.64L292.46 118.12L292.72 118.42L293.01 118.61L293.33 118.7L293.67 118.75L294.01 118.8L294.36 118.87L294.71 118.98L295.07 119.09L295.43 119.19L295.8 119.28L296.17 119.36L296.53 119.43L296.88 119.5L297.21 119.56L297.54 119.61L297.87 119.65L298.24 119.67L298.64 119.68L299.1 119.67L299.61 119.64L300.15 119.6L300.68 119.55L301.19 119.48L301.66 119.4L302.09 119.31L302.52 119.21L302.93 119.1L303.29 118.96L303.6 118.8L303.83 118.59L303.98 118.33L304.06 118.01L304.08 117.67L304.06 117.32L304.02 116.98ZM305.85 125.03L305.78 124.73L305.69 124.43L305.57 124.15L305.42 123.9L305.22 123.67L304.97 123.48L304.66 123.35L304.29 123.27L303.89 123.23L303.45 123.19L302.99 123.14L302.52 123.07L302.02 122.97L301.5 122.86L300.95 122.75L300.39 122.63L299.83 122.5L299.27 122.36L298.71 122.2L298.13 122.03L297.55 121.85L296.98 121.66L296.44 121.47L295.94 121.28L295.46 121.08L294.99 120.86L294.55 120.64L294.15 120.43L293.8 120.23L293.5 120.07L293.26 119.89L293.08 119.68L292.94 119.49L292.84 119.37L292.78 119.35L292.75 119.49L292.77 119.82L292.84 120.3L292.95 120.89L293.08 121.54L293.22 122.19L293.37 122.8L293.5 123.42L293.64 124.08L293.78 124.75L293.94 125.38L294.12 125.93L294.33 126.35L294.58 126.62L294.87 126.78L295.19 126.87L295.52 126.91L295.87 126.95L296.21 127.03L296.55 127.13L296.9 127.24L297.26 127.34L297.63 127.43L297.99 127.52L298.35 127.61L298.69 127.68L299.02 127.75L299.34 127.81L299.68 127.87L300.04 127.91L300.44 127.93L300.9 127.95L301.41 127.95L301.94 127.94L302.48 127.92L302.99 127.88L303.46 127.82L303.9 127.75L304.33 127.68L304.75 127.59L305.12 127.48L305.43 127.32L305.68 127.12L305.84 126.85L305.93 126.51L305.96 126.13L305.95 125.74L305.91 125.37ZM307.27 133.26L307.2 133L307.12 132.76L307.02 132.52L306.87 132.3L306.69 132.11L306.45 131.95L306.15 131.83L305.79 131.75L305.39 131.7L304.96 131.66L304.51 131.6L304.04 131.52L303.56 131.41L303.04 131.28L302.51 131.14L301.96 130.99L301.41 130.83L300.87 130.65L300.32 130.46L299.76 130.25L299.2 130.03L298.65 129.81L298.12 129.58L297.64 129.37L297.17 129.15L296.73 128.92L296.31 128.69L295.92 128.47L295.58 128.28L295.29 128.12L295.07 127.95L294.89 127.76L294.76 127.59L294.67 127.47L294.62 127.46L294.58 127.58L294.58 127.88L294.62 128.32L294.69 128.87L294.78 129.47L294.87 130.1L294.96 130.7L295.05 131.33L295.13 132.04L295.24 132.77L295.37 133.48L295.54 134.11L295.75 134.61L296.01 134.94L296.31 135.14L296.63 135.24L296.97 135.3L297.31 135.35L297.66 135.44L298.01 135.55L298.37 135.67L298.74 135.77L299.11 135.87L299.48 135.95L299.85 136.02L300.19 136.09L300.52 136.14L300.85 136.19L301.19 136.22L301.56 136.24L301.96 136.24L302.42 136.22L302.93 136.18L303.46 136.13L304 136.06L304.51 135.98L304.97 135.88L305.4 135.78L305.83 135.67L306.23 135.55L306.59 135.41L306.89 135.24L307.13 135.04L307.27 134.79L307.35 134.5L307.38 134.18L307.36 133.85L307.32 133.54ZM309.42 140.84L309.32 140.58L309.21 140.32L309.07 140.07L308.9 139.86L308.68 139.67L308.42 139.53L308.11 139.44L307.74 139.4L307.34 139.39L306.9 139.4L306.44 139.39L305.97 139.36L305.47 139.31L304.94 139.25L304.39 139.18L303.82 139.09L303.26 139L302.69 138.89L302.13 138.77L301.54 138.62L300.95 138.46L300.37 138.29L299.82 138.11L299.31 137.93L298.82 137.73L298.34 137.52L297.9 137.29L297.48 137.07L297.12 136.86L296.82 136.68L296.57 136.49L296.38 136.27L296.24 136.07L296.14 135.94L296.08 135.92L296.06 136.07L296.08 136.42L296.16 136.94L296.29 137.57L296.45 138.26L296.63 138.95L296.81 139.6L296.99 140.25L297.18 140.96L297.38 141.68L297.6 142.35L297.84 142.93L298.1 143.37L298.39 143.65L298.7 143.79L299.03 143.86L299.37 143.87L299.71 143.88L300.06 143.93L300.42 144L300.78 144.07L301.16 144.14L301.54 144.19L301.91 144.24L302.28 144.28L302.63 144.31L302.96 144.34L303.29 144.36L303.63 144.37L303.99 144.36L304.4 144.33L304.85 144.28L305.36 144.21L305.89 144.12L306.41 144.02L306.92 143.91L307.37 143.78L307.8 143.65L308.22 143.52L308.61 143.37L308.96 143.21L309.25 143.02L309.47 142.79L309.59 142.51L309.64 142.19L309.63 141.84L309.58 141.48L309.5 141.14ZM312.02 148.73L311.92 148.47L311.8 148.21L311.66 147.97L311.48 147.75L311.26 147.57L311 147.43L310.68 147.35L310.31 147.32L309.91 147.32L309.47 147.33L309.01 147.34L308.54 147.32L308.04 147.28L307.51 147.23L306.96 147.18L306.39 147.11L305.82 147.03L305.25 146.94L304.68 146.84L304.09 146.72L303.5 146.59L302.92 146.45L302.36 146.31L301.84 146.17L301.35 146.01L300.87 145.84L300.41 145.66L299.99 145.48L299.62 145.32L299.31 145.18L299.06 145.03L298.86 144.84L298.7 144.67L298.59 144.56L298.53 144.55L298.52 144.69L298.57 145.01L298.68 145.48L298.83 146.05L299.02 146.68L299.22 147.31L299.41 147.91L299.61 148.53L299.81 149.2L300.02 149.89L300.25 150.54L300.5 151.1L300.77 151.53L301.06 151.8L301.38 151.94L301.71 152L302.05 152.01L302.4 152.01L302.75 152.04L303.1 152.11L303.47 152.17L303.85 152.23L304.23 152.27L304.6 152.31L304.97 152.34L305.32 152.37L305.65 152.39L305.98 152.4L306.33 152.4L306.69 152.38L307.09 152.34L307.55 152.28L308.05 152.19L308.58 152.09L309.1 151.98L309.6 151.85L310.05 151.71L310.47 151.57L310.89 151.43L311.28 151.27L311.63 151.1L311.91 150.9L312.12 150.67L312.24 150.39L312.28 150.06L312.26 149.71L312.2 149.36L312.12 149.03ZM314.84 156.73L314.74 156.45L314.62 156.18L314.47 155.92L314.28 155.7L314.06 155.51L313.79 155.36L313.47 155.27L313.1 155.24L312.69 155.24L312.25 155.26L311.79 155.27L311.32 155.26L310.82 155.22L310.28 155.18L309.73 155.13L309.16 155.07L308.58 155.01L308.02 154.93L307.44 154.84L306.85 154.73L306.25 154.62L305.67 154.5L305.11 154.37L304.58 154.24L304.09 154.09L303.6 153.94L303.14 153.77L302.72 153.6L302.34 153.45L302.03 153.32L301.77 153.17L301.56 152.99L301.4 152.82L301.29 152.71L301.23 152.7L301.22 152.84L301.28 153.16L301.4 153.63L301.57 154.2L301.78 154.82L301.99 155.45L302.2 156.04L302.41 156.64L302.62 157.29L302.84 157.95L303.08 158.58L303.32 159.11L303.59 159.52L303.88 159.77L304.19 159.9L304.51 159.95L304.85 159.96L305.2 159.95L305.55 159.99L305.9 160.05L306.27 160.11L306.64 160.16L307.02 160.21L307.39 160.25L307.76 160.29L308.11 160.31L308.44 160.34L308.77 160.36L309.11 160.36L309.47 160.35L309.87 160.32L310.33 160.26L310.84 160.19L311.36 160.1L311.89 160L312.39 159.89L312.85 159.76L313.27 159.63L313.69 159.5L314.09 159.35L314.44 159.18L314.73 158.98L314.94 158.75L315.06 158.47L315.11 158.13L315.09 157.76L315.03 157.4L314.94 157.04ZM317.48 164.9L317.38 164.62L317.27 164.35L317.13 164.1L316.95 163.87L316.73 163.68L316.47 163.53L316.15 163.43L315.79 163.39L315.38 163.38L314.94 163.39L314.48 163.39L314 163.36L313.51 163.31L312.98 163.25L312.42 163.19L311.85 163.11L311.28 163.03L310.72 162.93L310.15 162.83L309.56 162.7L308.97 162.57L308.39 162.44L307.83 162.29L307.32 162.15L306.83 162L306.35 161.83L305.9 161.66L305.48 161.5L305.11 161.35L304.8 161.22L304.55 161.08L304.35 160.9L304.2 160.74L304.09 160.64L304.03 160.63L304.02 160.76L304.06 161.07L304.17 161.52L304.32 162.07L304.5 162.67L304.69 163.29L304.88 163.88L305.06 164.47L305.25 165.13L305.45 165.8L305.67 166.44L305.91 166.99L306.16 167.41L306.45 167.68L306.75 167.82L307.08 167.88L307.42 167.9L307.76 167.9L308.11 167.95L308.47 168.02L308.83 168.09L309.21 168.15L309.58 168.21L309.95 168.26L310.32 168.3L310.67 168.33L311 168.37L311.33 168.39L311.67 168.4L312.03 168.4L312.44 168.37L312.89 168.32L313.4 168.26L313.93 168.18L314.46 168.08L314.96 167.97L315.42 167.86L315.85 167.73L316.27 167.6L316.66 167.46L317.01 167.3L317.31 167.11L317.52 166.88L317.65 166.6L317.7 166.27L317.7 165.91L317.64 165.55L317.57 165.2ZM320 172.98L319.91 172.71L319.79 172.44L319.65 172.19L319.48 171.96L319.26 171.77L319 171.62L318.68 171.52L318.32 171.48L317.91 171.47L317.47 171.48L317.01 171.47L316.54 171.44L316.04 171.39L315.51 171.33L314.95 171.26L314.39 171.18L313.82 171.09L313.26 170.99L312.69 170.88L312.1 170.75L311.51 170.62L310.93 170.47L310.37 170.32L309.86 170.17L309.37 170.01L308.89 169.83L308.44 169.65L308.02 169.48L307.65 169.32L307.35 169.18L307.1 169.03L306.9 168.85L306.75 168.68L306.64 168.57L306.58 168.56L306.57 168.69L306.61 169.01L306.71 169.47L306.86 170.03L307.03 170.65L307.22 171.28L307.4 171.88L307.58 172.49L307.77 173.15L307.97 173.83L308.18 174.47L308.42 175.03L308.67 175.46L308.96 175.72L309.26 175.87L309.59 175.93L309.93 175.94L310.28 175.96L310.62 176L310.98 176.08L311.34 176.15L311.72 176.21L312.09 176.27L312.46 176.32L312.83 176.36L313.18 176.4L313.51 176.43L313.84 176.45L314.18 176.47L314.55 176.46L314.95 176.44L315.4 176.39L315.91 176.33L316.44 176.25L316.97 176.15L317.47 176.05L317.93 175.93L318.36 175.81L318.78 175.68L319.17 175.54L319.53 175.38L319.82 175.19L320.04 174.96L320.17 174.68L320.22 174.35L320.21 174L320.16 173.64L320.09 173.29Z" fill="#ff0000"/>
<path d="M203.85 110.7H208.05M224.05 130.4H240.55M250.95 110.7H270.05M283.45 130.4H298.05M308.85 110.7H328.65M197.7 110.7H219.3M235.65 130.4H252.55M265.45 110.7H277.55M291.45 130.4H311.35M321.4 110.7H334.1" fill="none" stroke="#0a0a0a" stroke-width="1.7" stroke-linejoin="round" stroke-linecap="round"/><path d="M183.15 130.4L184.19 130.28L185.22 129.92L186.25 129.33L187.29 128.52L188.33 127.52L189.36 126.34L190.4 125.02L191.43 123.59L192.47 122.09L193.5 120.55L194.54 119.01L195.57 117.51L196.61 116.08L197.64 114.76L198.68 113.58L199.71 112.58L200.75 111.77L201.78 111.18L202.82 110.82L203.85 110.7L208.55 110.7L207.52 110.82L206.48 111.18L205.45 111.77L204.41 112.58L203.38 113.58L202.34 114.76L201.31 116.08L200.27 117.51L199.24 119.01L198.2 120.55L197.16 122.09L196.13 123.59L195.09 125.02L194.06 126.34L193.03 127.52L191.99 128.52L190.95 129.33L189.92 129.92L188.88 130.28L187.85 130.4ZM235.85 130.4L236.6 130.28L237.36 129.92L238.12 129.33L238.87 128.52L239.62 127.52L240.38 126.34L241.13 125.02L241.89 123.59L242.65 122.09L243.4 120.55L244.16 119.01L244.91 117.51L245.67 116.08L246.42 114.76L247.18 113.58L247.93 112.58L248.69 111.77L249.44 111.18L250.2 110.82L250.95 110.7L255.65 110.7L254.9 110.82L254.14 111.18L253.38 111.77L252.63 112.58L251.88 113.58L251.12 114.76L250.37 116.08L249.61 117.51L248.85 119.01L248.1 120.55L247.34 122.09L246.59 123.59L245.83 125.02L245.08 126.34L244.32 127.52L243.57 128.52L242.81 129.33L242.06 129.92L241.3 130.28L240.55 130.4ZM293.35 130.4L294.12 130.28L294.9 129.92L295.67 129.33L296.45 128.52L297.22 127.52L298 126.34L298.77 125.02L299.55 123.59L300.32 122.09L301.1 120.55L301.87 119.01L302.65 117.51L303.42 116.08L304.2 114.76L304.97 113.58L305.75 112.58L306.52 111.77L307.3 111.18L308.07 110.82L308.85 110.7L313.55 110.7L312.78 110.82L312 111.18L311.23 111.77L310.45 112.58L309.68 113.58L308.9 114.76L308.12 116.08L307.35 117.51L306.57 119.01L305.8 120.55L305.03 122.09L304.25 123.59L303.48 125.02L302.7 126.34L301.93 127.52L301.15 128.52L300.38 129.33L299.6 129.92L298.82 130.28L298.05 130.4ZM247.85 130.4L248.73 130.28L249.61 129.92L250.49 129.33L251.37 128.52L252.25 127.52L253.13 126.34L254.01 125.02L254.89 123.59L255.77 122.09L256.65 120.55L257.53 119.01L258.41 117.51L259.29 116.08L260.17 114.76L261.05 113.58L261.93 112.58L262.81 111.77L263.69 111.18L264.57 110.82L265.45 110.7L270.15 110.7L269.27 110.82L268.39 111.18L267.51 111.77L266.63 112.58L265.75 113.58L264.87 114.76L263.99 116.08L263.11 117.51L262.23 119.01L261.35 120.55L260.47 122.09L259.59 123.59L258.71 125.02L257.83 126.34L256.95 127.52L256.07 128.52L255.19 129.33L254.31 129.92L253.43 130.28L252.55 130.4ZM306.65 130.4L307.41 130.28L308.17 129.92L308.93 129.33L309.69 128.52L310.45 127.52L311.21 126.34L311.97 125.02L312.73 123.59L313.49 122.09L314.25 120.55L315.01 119.01L315.77 117.51L316.53 116.08L317.29 114.76L318.05 113.58L318.81 112.58L319.57 111.77L320.33 111.18L321.09 110.82L321.85 110.7L326.55 110.7L325.79 110.82L325.03 111.18L324.27 111.77L323.51 112.58L322.75 113.58L321.99 114.76L321.23 116.08L320.47 117.51L319.71 119.01L318.95 120.55L318.19 122.09L317.43 123.59L316.67 125.02L315.91 126.34L315.15 127.52L314.39 128.52L313.63 129.33L312.87 129.92L312.11 130.28L311.35 130.4Z" fill="#b4b4b4" stroke="#0a0a0a" stroke-width="1.7" stroke-linejoin="round" stroke-linecap="round"/><path d="M203.35 110.7L204.38 110.82L205.42 111.18L206.45 111.77L207.49 112.58L208.53 113.58L209.56 114.76L210.59 116.08L211.63 117.51L212.66 119.01L213.7 120.55L214.74 122.09L215.77 123.59L216.81 125.02L217.84 126.34L218.88 127.52L219.91 128.52L220.95 129.33L221.98 129.92L223.02 130.28L224.05 130.4L228.75 130.4L227.72 130.28L226.68 129.92L225.65 129.33L224.61 128.52L223.57 127.52L222.54 126.34L221.5 125.02L220.47 123.59L219.44 122.09L218.4 120.55L217.36 119.01L216.33 117.51L215.29 116.08L214.26 114.76L213.22 113.58L212.19 112.58L211.15 111.77L210.12 111.18L209.08 110.82L208.05 110.7ZM265.35 110.7L266.25 110.82L267.16 111.18L268.06 111.77L268.97 112.58L269.88 113.58L270.78 114.76L271.68 116.08L272.59 117.51L273.5 119.01L274.4 120.55L275.3 122.09L276.21 123.59L277.12 125.02L278.02 126.34L278.92 127.52L279.83 128.52L280.74 129.33L281.64 129.92L282.54 130.28L283.45 130.4L288.15 130.4L287.25 130.28L286.34 129.92L285.44 129.33L284.53 128.52L283.62 127.52L282.72 126.34L281.82 125.02L280.91 123.59L280 122.09L279.1 120.55L278.2 119.01L277.29 117.51L276.38 116.08L275.48 114.76L274.58 113.58L273.67 112.58L272.76 111.77L271.86 111.18L270.96 110.82L270.05 110.7ZM323.95 110.7L324.99 110.82L326.02 111.18L327.06 111.77L328.09 112.58L329.12 113.58L330.16 114.76L331.19 116.08L332.23 117.51L333.26 119.01L334.3 120.55L335.33 122.09L336.37 123.59L337.4 125.02L338.44 126.34L339.47 127.52L340.51 128.52L341.54 129.33L342.58 129.92L343.61 130.28L344.65 130.4L349.35 130.4L348.31 130.28L347.28 129.92L346.25 129.33L345.21 128.52L344.18 127.52L343.14 126.34L342.11 125.02L341.07 123.59L340.04 122.09L339 120.55L337.97 119.01L336.93 117.51L335.9 116.08L334.86 114.76L333.83 113.58L332.79 112.58L331.76 111.77L330.72 111.18L329.69 110.82L328.65 110.7ZM214.15 110.7L215.22 110.82L216.3 111.18L217.38 111.77L218.45 112.58L219.53 113.58L220.6 114.76L221.68 116.08L222.75 117.51L223.83 119.01L224.9 120.55L225.97 122.09L227.05 123.59L228.12 125.02L229.2 126.34L230.28 127.52L231.35 128.52L232.43 129.33L233.5 129.92L234.58 130.28L235.65 130.4L240.35 130.4L239.28 130.28L238.2 129.92L237.12 129.33L236.05 128.52L234.97 127.52L233.9 126.34L232.82 125.02L231.75 123.59L230.67 122.09L229.6 120.55L228.53 119.01L227.45 117.51L226.38 116.08L225.3 114.76L224.22 113.58L223.15 112.58L222.07 111.77L221 111.18L219.92 110.82L218.85 110.7ZM272.85 110.7L273.78 110.82L274.71 111.18L275.64 111.77L276.57 112.58L277.5 113.58L278.43 114.76L279.36 116.08L280.29 117.51L281.22 119.01L282.15 120.55L283.08 122.09L284.01 123.59L284.94 125.02L285.87 126.34L286.8 127.52L287.73 128.52L288.66 129.33L289.59 129.92L290.52 130.28L291.45 130.4L296.15 130.4L295.22 130.28L294.29 129.92L293.36 129.33L292.43 128.52L291.5 127.52L290.57 126.34L289.64 125.02L288.71 123.59L287.78 122.09L286.85 120.55L285.92 119.01L284.99 117.51L284.06 116.08L283.13 114.76L282.2 113.58L281.27 112.58L280.34 111.77L279.41 111.18L278.48 110.82L277.55 110.7Z" fill="#fff" stroke="#0a0a0a" stroke-width="1.7" stroke-linejoin="round" stroke-linecap="round"/>
<path d="M271.5 54.8L263 55C252 55.5 247 68 239 85C232 100 224.5 112 224.5 127" fill="none" stroke="#2f5597" stroke-width="3.2" stroke-linecap="round"/>
<ellipse cx="227.3" cy="136.1" rx="26.3" ry="11.5" fill="#4472c4"/>
<ellipse cx="278.1" cy="57" rx="7.5" ry="29.2" fill="#4472c4"/>
<g fill="#8faadc"><ellipse cx="300.08" cy="19.61" rx="4.9" ry="2.7" transform="rotate(1.67 300.08 19.61)"/><ellipse cx="299.76" cy="28.05" rx="4.9" ry="2.7" transform="rotate(2.37 299.76 28.05)"/><ellipse cx="299.4" cy="36.49" rx="4.9" ry="2.7" transform="rotate(2.26 299.4 36.49)"/><ellipse cx="299.18" cy="44.94" rx="4.9" ry="2.7" transform="rotate(1.93 299.18 44.94)"/><ellipse cx="298.5" cy="53.38" rx="4.9" ry="2.7" transform="rotate(6.08 298.5 53.38)"/><ellipse cx="297.45" cy="61.78" rx="4.9" ry="2.7" transform="rotate(7.54 297.45 61.78)"/><ellipse cx="296.28" cy="70.15" rx="4.9" ry="2.7" transform="rotate(8.24 296.28 70.15)"/><ellipse cx="295" cy="78.51" rx="4.9" ry="2.7" transform="rotate(9.24 295 78.51)"/><ellipse cx="293.44" cy="86.82" rx="4.9" ry="2.7" transform="rotate(11.3 293.44 86.82)"/><ellipse cx="291.7" cy="95.09" rx="4.9" ry="2.7" transform="rotate(12.18 291.7 95.09)"/><ellipse cx="289.87" cy="103.35" rx="4.9" ry="2.7" transform="rotate(12.79 289.87 103.35)"/><ellipse cx="287.92" cy="111.58" rx="4.9" ry="2.7" transform="rotate(13.94 287.92 111.58)"/><ellipse cx="285.62" cy="119.72" rx="4.9" ry="2.7" transform="rotate(16.78 285.62 119.72)"/><ellipse cx="283.25" cy="127.82" rx="4.9" ry="2.7" transform="rotate(15.22 283.25 127.82)"/><ellipse cx="281.17" cy="136.01" rx="4.9" ry="2.7" transform="rotate(14.42 281.17 136.01)"/><ellipse cx="278.7" cy="144.12" rx="4.9" ry="2.7" transform="rotate(19.8 278.7 144.12)"/><ellipse cx="275.35" cy="151.89" rx="4.9" ry="2.7" transform="rotate(23.49 275.35 151.89)"/><ellipse cx="272.39" cy="159.78" rx="4.9" ry="2.7" transform="rotate(18.99 272.39 159.78)"/><ellipse cx="269.75" cy="167.8" rx="4.9" ry="2.7" transform="rotate(17.96 269.75 167.8)"/><ellipse cx="266.48" cy="175.31" rx="3.8" ry="2.3" transform="rotate(62.99 266.48 175.31)"/></g><path d="M294.09 15.63L294.1 15.4L294.15 15.17L294.22 14.94L294.34 14.73L294.5 14.53L294.71 14.36L294.98 14.21L295.3 14.09L295.67 13.98L296.07 13.89L296.49 13.8L296.92 13.7L297.38 13.61L297.88 13.54L298.41 13.46L298.93 13.38L299.45 13.28L299.93 13.15L300.39 12.98L300.85 12.79L301.3 12.58L301.72 12.36L302.1 12.12L302.45 11.88L302.75 11.63L303.01 11.37L303.23 11.09L303.43 10.82L303.61 10.55L303.77 10.3L303.9 10.02L303.99 9.71L304.06 9.41L304.13 9.15L304.2 9L304.28 9L304.39 9.18L304.5 9.52L304.61 9.95L304.73 10.43L304.85 10.9L304.96 11.31L305.06 11.67L305.17 12.03L305.28 12.39L305.37 12.72L305.46 13.04L305.53 13.34L305.6 13.6L305.67 13.84L305.74 14.06L305.77 14.27L305.75 14.46L305.66 14.65L305.47 14.84L305.22 15L304.91 15.16L304.57 15.31L304.22 15.47L303.89 15.63L303.57 15.81L303.23 16L302.89 16.18L302.55 16.37L302.2 16.54L301.87 16.7L301.54 16.83L301.23 16.96L300.92 17.08L300.59 17.18L300.24 17.27L299.85 17.35L299.4 17.41L298.89 17.46L298.36 17.5L297.82 17.52L297.31 17.53L296.84 17.52L296.41 17.5L295.99 17.47L295.6 17.42L295.23 17.35L294.91 17.25L294.65 17.12L294.45 16.93L294.3 16.69L294.19 16.43L294.13 16.15L294.09 15.88ZM293.77 24.06L293.79 23.77L293.83 23.49L293.9 23.21L294.01 22.95L294.16 22.71L294.38 22.5L294.66 22.32L295 22.19L295.39 22.08L295.82 21.96L296.26 21.84L296.71 21.69L297.18 21.51L297.67 21.31L298.19 21.1L298.71 20.88L299.24 20.64L299.76 20.4L300.28 20.14L300.81 19.86L301.34 19.57L301.86 19.27L302.36 18.97L302.81 18.68L303.24 18.39L303.65 18.09L304.04 17.79L304.39 17.5L304.7 17.24L304.96 17.02L305.16 16.8L305.3 16.57L305.4 16.36L305.47 16.22L305.52 16.2L305.57 16.33L305.62 16.64L305.65 17.13L305.66 17.72L305.66 18.38L305.65 19.05L305.63 19.68L305.62 20.33L305.62 21.03L305.6 21.74L305.56 22.43L305.48 23.03L305.35 23.51L305.14 23.85L304.88 24.07L304.58 24.21L304.26 24.32L303.93 24.42L303.6 24.55L303.28 24.72L302.95 24.88L302.6 25.04L302.26 25.19L301.91 25.34L301.57 25.47L301.24 25.6L300.93 25.72L300.61 25.82L300.29 25.92L299.93 26.01L299.54 26.09L299.09 26.17L298.58 26.24L298.05 26.29L297.51 26.34L297 26.37L296.53 26.37L296.08 26.36L295.64 26.34L295.22 26.31L294.84 26.25L294.51 26.14L294.24 25.98L294.04 25.74L293.91 25.44L293.82 25.09L293.78 24.73L293.76 24.38ZM293.41 32.49L293.43 32.2L293.48 31.91L293.55 31.63L293.66 31.37L293.82 31.13L294.03 30.91L294.31 30.74L294.66 30.61L295.05 30.49L295.47 30.39L295.92 30.26L296.37 30.11L296.84 29.93L297.33 29.74L297.85 29.53L298.38 29.31L298.91 29.08L299.42 28.84L299.95 28.58L300.48 28.31L301.02 28.03L301.54 27.74L302.04 27.45L302.5 27.17L302.93 26.88L303.34 26.59L303.73 26.3L304.09 26.02L304.4 25.76L304.67 25.55L304.87 25.34L305.01 25.1L305.11 24.9L305.19 24.77L305.24 24.74L305.29 24.87L305.34 25.19L305.36 25.66L305.36 26.25L305.35 26.9L305.33 27.56L305.31 28.19L305.29 28.82L305.28 29.52L305.26 30.23L305.22 30.9L305.14 31.5L305 31.98L304.79 32.31L304.53 32.53L304.23 32.67L303.91 32.78L303.58 32.87L303.25 33.01L302.93 33.17L302.59 33.33L302.25 33.49L301.9 33.64L301.55 33.79L301.21 33.92L300.88 34.04L300.57 34.16L300.26 34.27L299.93 34.37L299.58 34.46L299.18 34.54L298.73 34.61L298.22 34.68L297.69 34.74L297.16 34.78L296.64 34.81L296.17 34.81L295.72 34.8L295.28 34.79L294.87 34.75L294.48 34.69L294.15 34.58L293.88 34.42L293.69 34.18L293.55 33.87L293.47 33.52L293.42 33.16L293.41 32.81ZM293.12 41.05L293.14 40.76L293.17 40.47L293.24 40.19L293.34 39.92L293.5 39.67L293.71 39.45L293.98 39.27L294.33 39.13L294.71 39.01L295.14 38.89L295.58 38.76L296.03 38.6L296.49 38.41L296.99 38.21L297.5 37.99L298.03 37.77L298.55 37.53L299.07 37.28L299.59 37.02L300.12 36.75L300.66 36.46L301.18 36.17L301.68 35.88L302.14 35.6L302.57 35.32L302.99 35.03L303.38 34.74L303.73 34.47L304.05 34.21L304.31 34L304.51 33.79L304.66 33.56L304.76 33.36L304.83 33.22L304.89 33.2L304.94 33.33L304.98 33.64L305 34.12L305 34.7L304.99 35.34L304.97 35.99L304.95 36.6L304.94 37.22L304.93 37.9L304.92 38.59L304.89 39.25L304.82 39.84L304.69 40.32L304.49 40.65L304.24 40.87L303.94 41.02L303.62 41.13L303.29 41.23L302.97 41.37L302.65 41.54L302.32 41.71L301.98 41.88L301.64 42.04L301.29 42.19L300.95 42.33L300.63 42.46L300.32 42.58L300.01 42.7L299.68 42.8L299.33 42.9L298.94 42.98L298.49 43.06L297.98 43.14L297.45 43.2L296.92 43.25L296.4 43.28L295.93 43.29L295.48 43.29L295.05 43.28L294.63 43.25L294.24 43.19L293.91 43.09L293.64 42.93L293.44 42.71L293.3 42.41L293.2 42.07L293.15 41.72L293.13 41.37ZM292.75 49.12L292.78 48.84L292.84 48.57L292.92 48.31L293.04 48.07L293.2 47.85L293.42 47.65L293.71 47.49L294.05 47.38L294.45 47.28L294.87 47.19L295.32 47.08L295.77 46.94L296.24 46.78L296.74 46.6L297.26 46.4L297.79 46.19L298.32 45.97L298.84 45.73L299.37 45.48L299.9 45.2L300.44 44.91L300.96 44.62L301.45 44.32L301.91 44.03L302.34 43.74L302.75 43.43L303.14 43.13L303.49 42.84L303.79 42.58L304.05 42.36L304.25 42.14L304.39 41.9L304.49 41.7L304.56 41.56L304.61 41.53L304.67 41.66L304.71 41.98L304.74 42.46L304.76 43.06L304.76 43.72L304.75 44.41L304.73 45.06L304.71 45.73L304.7 46.47L304.66 47.21L304.6 47.93L304.5 48.56L304.35 49.06L304.13 49.4L303.86 49.62L303.55 49.76L303.22 49.85L302.89 49.94L302.56 50.07L302.23 50.22L301.88 50.37L301.53 50.52L301.17 50.66L300.82 50.79L300.47 50.91L300.14 51.01L299.82 51.11L299.5 51.21L299.17 51.29L298.81 51.36L298.41 51.41L297.95 51.46L297.44 51.5L296.91 51.52L296.37 51.54L295.85 51.53L295.38 51.5L294.94 51.47L294.5 51.42L294.09 51.37L293.71 51.28L293.38 51.15L293.13 50.98L292.94 50.74L292.82 50.44L292.76 50.11L292.73 49.76L292.73 49.42ZM291.84 57.28L291.88 57L291.94 56.72L292.04 56.45L292.17 56.2L292.35 55.98L292.58 55.79L292.87 55.64L293.22 55.53L293.62 55.45L294.05 55.38L294.51 55.3L294.97 55.18L295.45 55.04L295.96 54.88L296.49 54.72L297.03 54.54L297.58 54.35L298.11 54.15L298.65 53.93L299.2 53.69L299.76 53.44L300.3 53.19L300.82 52.93L301.29 52.67L301.74 52.41L302.18 52.14L302.59 51.86L302.96 51.6L303.29 51.35L303.56 51.15L303.77 50.94L303.93 50.71L304.05 50.5L304.13 50.36L304.18 50.34L304.23 50.48L304.25 50.81L304.24 51.3L304.21 51.91L304.16 52.58L304.09 53.26L304.03 53.9L303.96 54.54L303.9 55.25L303.83 55.97L303.73 56.65L303.6 57.25L303.42 57.73L303.19 58.05L302.91 58.25L302.6 58.36L302.27 58.44L301.93 58.51L301.6 58.62L301.26 58.76L300.91 58.89L300.55 59.02L300.2 59.14L299.84 59.26L299.48 59.36L299.15 59.46L298.82 59.55L298.5 59.63L298.17 59.7L297.81 59.76L297.41 59.8L296.95 59.84L296.44 59.86L295.91 59.87L295.37 59.87L294.85 59.85L294.38 59.81L293.94 59.76L293.51 59.71L293.09 59.63L292.72 59.54L292.39 59.4L292.14 59.22L291.97 58.97L291.86 58.65L291.8 58.31L291.79 57.94L291.8 57.6ZM290.72 65.58L290.77 65.29L290.84 65.01L290.93 64.74L291.07 64.49L291.25 64.27L291.48 64.08L291.78 63.93L292.14 63.83L292.53 63.76L292.97 63.69L293.42 63.62L293.89 63.51L294.37 63.37L294.88 63.23L295.42 63.07L295.96 62.9L296.51 62.72L297.05 62.53L297.59 62.32L298.15 62.1L298.71 61.86L299.25 61.62L299.78 61.38L300.26 61.14L300.72 60.89L301.16 60.64L301.57 60.38L301.95 60.13L302.28 59.9L302.56 59.71L302.78 59.51L302.95 59.3L303.07 59.1L303.15 58.97L303.21 58.95L303.25 59.08L303.26 59.41L303.24 59.89L303.19 60.47L303.13 61.12L303.05 61.79L302.97 62.41L302.89 63.05L302.81 63.75L302.73 64.46L302.62 65.13L302.48 65.72L302.3 66.19L302.06 66.5L301.78 66.7L301.47 66.81L301.14 66.88L300.8 66.95L300.46 67.05L300.12 67.18L299.77 67.31L299.41 67.44L299.05 67.55L298.69 67.66L298.34 67.76L298 67.85L297.68 67.94L297.35 68.02L297.02 68.08L296.66 68.13L296.26 68.17L295.8 68.2L295.29 68.22L294.76 68.22L294.22 68.21L293.7 68.19L293.23 68.14L292.79 68.09L292.36 68.03L291.94 67.95L291.57 67.85L291.25 67.71L291 67.52L290.83 67.27L290.72 66.95L290.67 66.6L290.66 66.24L290.68 65.89ZM289.5 73.87L289.56 73.58L289.63 73.3L289.73 73.04L289.87 72.79L290.05 72.57L290.28 72.38L290.58 72.24L290.94 72.15L291.34 72.08L291.77 72.02L292.23 71.94L292.69 71.84L293.17 71.71L293.69 71.57L294.23 71.42L294.77 71.26L295.32 71.08L295.86 70.9L296.41 70.69L296.97 70.48L297.53 70.25L298.08 70.01L298.61 69.78L299.09 69.54L299.55 69.31L299.99 69.05L300.41 68.8L300.79 68.56L301.13 68.34L301.41 68.15L301.64 67.96L301.8 67.74L301.93 67.55L302.01 67.42L302.07 67.4L302.11 67.54L302.12 67.86L302.09 68.33L302.03 68.92L301.96 69.57L301.87 70.23L301.78 70.85L301.7 71.48L301.62 72.18L301.52 72.89L301.41 73.56L301.26 74.15L301.07 74.62L300.83 74.93L300.55 75.12L300.24 75.23L299.9 75.3L299.56 75.36L299.23 75.46L298.89 75.59L298.53 75.71L298.18 75.83L297.81 75.95L297.45 76.05L297.1 76.15L296.76 76.24L296.43 76.32L296.11 76.39L295.77 76.45L295.41 76.5L295.01 76.53L294.55 76.55L294.04 76.56L293.51 76.56L292.97 76.54L292.46 76.51L291.99 76.45L291.55 76.39L291.11 76.32L290.7 76.24L290.33 76.13L290.01 75.99L289.76 75.8L289.59 75.55L289.49 75.23L289.45 74.89L289.44 74.53L289.46 74.18ZM288.13 81.99L288.19 81.72L288.27 81.44L288.38 81.19L288.52 80.95L288.71 80.74L288.96 80.56L289.26 80.43L289.61 80.35L290.02 80.29L290.45 80.25L290.91 80.19L291.38 80.1L291.86 79.99L292.38 79.86L292.92 79.73L293.47 79.58L294.02 79.42L294.57 79.25L295.12 79.06L295.68 78.85L296.25 78.63L296.8 78.41L297.33 78.18L297.82 77.95L298.29 77.72L298.73 77.47L299.16 77.22L299.54 76.98L299.88 76.76L300.17 76.58L300.39 76.39L300.56 76.17L300.69 75.98L300.77 75.85L300.83 75.83L300.87 75.97L300.87 76.29L300.84 76.77L300.77 77.36L300.69 78.02L300.59 78.68L300.49 79.32L300.39 79.96L300.29 80.67L300.18 81.39L300.04 82.07L299.87 82.67L299.67 83.14L299.41 83.45L299.12 83.63L298.81 83.73L298.47 83.79L298.13 83.84L297.79 83.93L297.44 84.04L297.09 84.16L296.72 84.27L296.36 84.37L295.99 84.46L295.63 84.54L295.29 84.62L294.96 84.69L294.64 84.75L294.3 84.8L293.93 84.83L293.53 84.85L293.07 84.85L292.56 84.84L292.03 84.82L291.49 84.78L290.98 84.73L290.51 84.66L290.07 84.58L289.64 84.5L289.23 84.4L288.87 84.28L288.55 84.12L288.31 83.93L288.15 83.67L288.07 83.35L288.03 83L288.04 82.64L288.08 82.3ZM286.47 90.15L286.54 89.87L286.63 89.6L286.74 89.34L286.89 89.1L287.09 88.89L287.34 88.72L287.64 88.59L288 88.52L288.41 88.47L288.84 88.43L289.3 88.39L289.77 88.31L290.26 88.21L290.78 88.1L291.33 87.98L291.88 87.84L292.44 87.7L292.99 87.55L293.55 87.38L294.12 87.19L294.69 86.99L295.25 86.79L295.79 86.58L296.29 86.37L296.76 86.15L297.22 85.92L297.65 85.69L298.04 85.47L298.39 85.26L298.68 85.09L298.92 84.9L299.09 84.69L299.23 84.5L299.32 84.38L299.38 84.36L299.41 84.5L299.4 84.82L299.35 85.3L299.26 85.89L299.15 86.54L299.03 87.2L298.9 87.82L298.79 88.46L298.66 89.15L298.53 89.85L298.38 90.52L298.2 91.1L297.98 91.56L297.72 91.86L297.43 92.03L297.11 92.12L296.77 92.17L296.43 92.21L296.09 92.29L295.74 92.4L295.38 92.5L295.02 92.6L294.65 92.7L294.28 92.78L293.92 92.86L293.58 92.93L293.25 92.99L292.92 93.04L292.59 93.08L292.22 93.11L291.82 93.13L291.36 93.12L290.85 93.1L290.32 93.07L289.78 93.02L289.27 92.96L288.8 92.89L288.37 92.8L287.94 92.71L287.53 92.61L287.16 92.48L286.85 92.31L286.62 92.11L286.46 91.85L286.38 91.53L286.35 91.17L286.37 90.81L286.41 90.46ZM284.69 98.35L284.76 98.07L284.85 97.79L284.97 97.53L285.12 97.3L285.32 97.09L285.57 96.92L285.88 96.8L286.24 96.72L286.64 96.68L287.08 96.65L287.54 96.61L288.01 96.54L288.5 96.44L289.02 96.34L289.57 96.22L290.13 96.1L290.69 95.96L291.24 95.81L291.8 95.65L292.37 95.47L292.95 95.28L293.51 95.08L294.05 94.89L294.55 94.69L295.03 94.48L295.48 94.26L295.92 94.04L296.32 93.82L296.67 93.62L296.96 93.46L297.2 93.28L297.38 93.08L297.52 92.89L297.61 92.77L297.67 92.75L297.7 92.89L297.69 93.21L297.63 93.68L297.53 94.27L297.41 94.91L297.28 95.56L297.15 96.17L297.02 96.8L296.89 97.49L296.75 98.19L296.59 98.85L296.4 99.43L296.18 99.88L295.92 100.17L295.62 100.34L295.3 100.43L294.97 100.48L294.62 100.52L294.28 100.59L293.93 100.69L293.57 100.79L293.21 100.89L292.84 100.98L292.47 101.06L292.11 101.13L291.77 101.2L291.44 101.26L291.11 101.31L290.77 101.35L290.41 101.37L290 101.38L289.54 101.37L289.04 101.35L288.5 101.31L287.97 101.26L287.45 101.19L286.99 101.11L286.55 101.02L286.13 100.92L285.72 100.81L285.35 100.68L285.05 100.52L284.81 100.31L284.66 100.04L284.58 99.72L284.56 99.37L284.58 99.01L284.63 98.66ZM282.82 106.5L282.89 106.23L282.99 105.96L283.11 105.7L283.27 105.47L283.47 105.26L283.72 105.09L284.02 104.98L284.39 104.91L284.79 104.87L285.23 104.85L285.69 104.81L286.16 104.75L286.65 104.66L287.17 104.56L287.72 104.45L288.28 104.33L288.84 104.2L289.39 104.06L289.95 103.9L290.53 103.73L291.11 103.55L291.68 103.36L292.22 103.16L292.72 102.97L293.2 102.77L293.66 102.55L294.09 102.33L294.5 102.12L294.85 101.93L295.14 101.76L295.38 101.59L295.57 101.39L295.7 101.2L295.8 101.08L295.86 101.07L295.88 101.21L295.87 101.53L295.8 102L295.7 102.58L295.57 103.22L295.44 103.87L295.3 104.48L295.17 105.11L295.03 105.8L294.88 106.5L294.71 107.16L294.51 107.74L294.29 108.19L294.02 108.48L293.73 108.65L293.4 108.73L293.07 108.78L292.72 108.81L292.38 108.88L292.03 108.98L291.67 109.08L291.3 109.17L290.93 109.25L290.56 109.33L290.2 109.4L289.85 109.46L289.52 109.51L289.2 109.55L288.86 109.59L288.49 109.61L288.09 109.61L287.63 109.59L287.12 109.56L286.59 109.51L286.06 109.45L285.55 109.37L285.08 109.28L284.65 109.19L284.22 109.08L283.82 108.97L283.45 108.83L283.15 108.66L282.92 108.45L282.77 108.18L282.7 107.86L282.68 107.51L282.7 107.16L282.75 106.81ZM280.78 114.43L280.87 114.17L280.97 113.91L281.1 113.66L281.27 113.44L281.47 113.25L281.73 113.1L282.04 113L282.4 112.95L282.81 112.93L283.24 112.92L283.7 112.9L284.17 112.86L284.67 112.79L285.2 112.71L285.74 112.62L286.31 112.52L286.87 112.4L287.43 112.28L287.99 112.13L288.57 111.98L289.15 111.8L289.72 111.62L290.27 111.44L290.78 111.25L291.26 111.06L291.72 110.85L292.16 110.63L292.57 110.43L292.93 110.24L293.22 110.07L293.46 109.9L293.65 109.7L293.79 109.52L293.89 109.4L293.95 109.38L293.97 109.52L293.95 109.84L293.88 110.32L293.77 110.9L293.63 111.55L293.47 112.21L293.32 112.84L293.17 113.48L293.01 114.18L292.83 114.89L292.64 115.57L292.42 116.16L292.17 116.61L291.89 116.9L291.58 117.06L291.26 117.13L290.92 117.16L290.57 117.18L290.22 117.24L289.87 117.32L289.5 117.41L289.13 117.48L288.76 117.55L288.38 117.61L288.02 117.66L287.67 117.7L287.34 117.74L287.01 117.77L286.67 117.79L286.3 117.79L285.9 117.77L285.44 117.73L284.94 117.67L284.4 117.6L283.87 117.51L283.37 117.41L282.91 117.29L282.48 117.17L282.06 117.05L281.66 116.91L281.31 116.76L281.01 116.57L280.79 116.35L280.66 116.08L280.6 115.76L280.6 115.42L280.64 115.06L280.7 114.73ZM278.35 122.49L278.44 122.2L278.56 121.92L278.7 121.66L278.87 121.43L279.09 121.23L279.35 121.07L279.66 120.97L280.03 120.92L280.44 120.91L280.88 120.91L281.34 120.9L281.82 120.86L282.31 120.81L282.85 120.74L283.4 120.67L283.97 120.59L284.53 120.5L285.1 120.4L285.67 120.28L286.26 120.15L286.85 120.01L287.43 119.86L287.98 119.7L288.5 119.54L288.99 119.37L289.47 119.19L289.92 118.99L290.33 118.81L290.7 118.63L291.01 118.48L291.26 118.32L291.45 118.12L291.6 117.94L291.71 117.82L291.77 117.81L291.79 117.96L291.75 118.28L291.65 118.76L291.5 119.34L291.33 119.98L291.14 120.63L290.96 121.24L290.78 121.85L290.6 122.52L290.4 123.2L290.19 123.83L289.96 124.38L289.71 124.8L289.43 125.06L289.13 125.21L288.81 125.27L288.47 125.29L288.12 125.3L287.78 125.35L287.42 125.42L287.06 125.5L286.69 125.57L286.32 125.63L285.95 125.69L285.58 125.73L285.23 125.78L284.9 125.82L284.57 125.85L284.23 125.87L283.87 125.87L283.47 125.86L283.01 125.83L282.5 125.78L281.97 125.72L281.44 125.64L280.93 125.55L280.47 125.45L280.04 125.34L279.61 125.22L279.21 125.09L278.86 124.94L278.56 124.76L278.34 124.53L278.2 124.25L278.14 123.91L278.14 123.54L278.19 123.17L278.26 122.81ZM276.13 130.87L276.21 130.59L276.3 130.32L276.43 130.06L276.59 129.82L276.8 129.62L277.05 129.45L277.36 129.33L277.72 129.27L278.13 129.24L278.57 129.22L279.03 129.19L279.5 129.13L280 129.05L280.52 128.96L281.07 128.86L281.63 128.76L282.2 128.64L282.75 128.52L283.32 128.38L283.9 128.22L284.48 128.06L285.05 127.9L285.6 127.73L286.11 127.57L286.59 127.39L287.06 127.21L287.5 127.02L287.91 126.84L288.27 126.68L288.58 126.54L288.82 126.38L289.01 126.2L289.16 126.04L289.26 125.93L289.32 125.92L289.34 126.05L289.31 126.36L289.22 126.81L289.09 127.35L288.95 127.96L288.79 128.57L288.63 129.15L288.49 129.75L288.34 130.41L288.18 131.08L288 131.72L287.8 132.28L287.57 132.72L287.3 133L287.01 133.16L286.68 133.24L286.35 133.27L286 133.3L285.66 133.37L285.31 133.46L284.95 133.55L284.58 133.64L284.21 133.72L283.84 133.79L283.48 133.85L283.13 133.91L282.8 133.96L282.47 134L282.13 134.03L281.77 134.05L281.37 134.04L280.91 134.02L280.4 133.99L279.87 133.93L279.33 133.87L278.82 133.79L278.36 133.69L277.93 133.59L277.5 133.48L277.1 133.36L276.74 133.22L276.43 133.05L276.2 132.84L276.06 132.57L275.99 132.25L275.97 131.89L276 131.53L276.06 131.18ZM274.03 138.73L274.12 138.48L274.22 138.23L274.35 138L274.52 137.79L274.73 137.61L274.98 137.46L275.29 137.37L275.65 137.32L276.06 137.31L276.5 137.31L276.95 137.3L277.43 137.26L277.92 137.19L278.45 137.12L279 137.03L279.56 136.94L280.12 136.83L280.68 136.71L281.25 136.57L281.83 136.42L282.41 136.25L282.98 136.07L283.53 135.89L284.04 135.71L284.52 135.52L284.99 135.32L285.43 135.11L285.84 134.9L286.19 134.72L286.49 134.56L286.73 134.39L286.92 134.2L287.06 134.02L287.16 133.9L287.22 133.89L287.25 134.02L287.22 134.34L287.15 134.81L287.03 135.39L286.89 136.04L286.73 136.69L286.57 137.31L286.41 137.95L286.25 138.66L286.07 139.37L285.86 140.06L285.63 140.65L285.38 141.11L285.09 141.41L284.78 141.57L284.45 141.65L284.11 141.67L283.76 141.69L283.41 141.74L283.06 141.83L282.69 141.9L282.31 141.98L281.94 142.04L281.56 142.09L281.19 142.13L280.84 142.17L280.51 142.2L280.18 142.22L279.84 142.22L279.48 142.21L279.07 142.18L278.62 142.12L278.12 142.04L277.59 141.94L277.06 141.83L276.56 141.7L276.11 141.57L275.69 141.43L275.27 141.29L274.88 141.14L274.53 140.97L274.24 140.78L274.03 140.56L273.9 140.29L273.84 139.99L273.84 139.66L273.89 139.33L273.96 139.01ZM271.24 145.99L271.36 145.73L271.5 145.48L271.67 145.26L271.86 145.07L272.09 144.91L272.37 144.8L272.69 144.74L273.06 144.74L273.46 144.78L273.89 144.83L274.35 144.88L274.83 144.9L275.33 144.9L275.86 144.89L276.41 144.88L276.98 144.85L277.56 144.81L278.13 144.76L278.7 144.68L279.3 144.59L279.9 144.48L280.49 144.36L281.06 144.23L281.59 144.08L282.09 143.93L282.58 143.75L283.04 143.56L283.47 143.37L283.84 143.2L284.16 143.04L284.41 142.88L284.62 142.68L284.78 142.49L284.88 142.37L284.94 142.36L284.96 142.51L284.91 142.85L284.79 143.35L284.62 143.96L284.4 144.64L284.17 145.33L283.93 145.97L283.69 146.63L283.42 147.34L283.14 148.05L282.85 148.72L282.54 149.28L282.23 149.7L281.91 149.94L281.59 150.06L281.25 150.09L280.91 150.07L280.57 150.04L280.21 150.05L279.85 150.08L279.48 150.11L279.1 150.13L278.72 150.15L278.34 150.16L277.97 150.16L277.62 150.15L277.29 150.14L276.96 150.13L276.62 150.1L276.26 150.06L275.86 149.99L275.41 149.89L274.91 149.77L274.4 149.63L273.88 149.48L273.39 149.31L272.95 149.14L272.54 148.97L272.13 148.8L271.76 148.62L271.42 148.41L271.15 148.19L270.97 147.94L270.87 147.65L270.86 147.31L270.91 146.96L271 146.6L271.12 146.27ZM267.85 154.13L267.96 153.84L268.09 153.56L268.25 153.3L268.45 153.07L268.68 152.88L268.95 152.73L269.28 152.65L269.65 152.62L270.06 152.64L270.5 152.67L270.96 152.69L271.44 152.69L271.94 152.67L272.48 152.65L273.04 152.62L273.61 152.59L274.19 152.55L274.76 152.51L275.34 152.45L275.93 152.38L276.54 152.31L277.13 152.23L277.69 152.14L278.22 152.05L278.73 151.95L279.22 151.83L279.69 151.71L280.12 151.58L280.51 151.46L280.83 151.36L281.1 151.24L281.32 151.08L281.49 150.93L281.61 150.83L281.67 150.82L281.67 150.96L281.59 151.27L281.43 151.72L281.22 152.26L280.98 152.84L280.73 153.43L280.49 153.98L280.26 154.53L280.03 155.14L279.79 155.75L279.54 156.33L279.29 156.84L279.02 157.22L278.73 157.45L278.42 157.57L278.09 157.6L277.76 157.59L277.41 157.58L277.06 157.61L276.71 157.66L276.34 157.71L275.97 157.75L275.59 157.79L275.22 157.82L274.86 157.85L274.51 157.87L274.18 157.88L273.85 157.89L273.51 157.89L273.14 157.87L272.74 157.84L272.29 157.77L271.78 157.69L271.26 157.6L270.73 157.48L270.23 157.36L269.78 157.23L269.35 157.09L268.94 156.95L268.55 156.79L268.2 156.62L267.91 156.42L267.7 156.18L267.59 155.89L267.55 155.55L267.58 155.18L267.65 154.8L267.74 154.44ZM265.07 162.32L265.17 162.04L265.28 161.77L265.43 161.52L265.61 161.29L265.83 161.1L266.09 160.95L266.41 160.86L266.78 160.83L267.19 160.82L267.63 160.84L268.09 160.84L268.56 160.82L269.06 160.77L269.59 160.72L270.15 160.66L270.72 160.6L271.29 160.52L271.85 160.44L272.42 160.34L273.01 160.23L273.61 160.1L274.19 159.98L274.75 159.84L275.27 159.71L275.76 159.57L276.24 159.41L276.69 159.25L277.11 159.1L277.48 158.96L277.79 158.84L278.04 158.7L278.25 158.54L278.4 158.38L278.51 158.28L278.57 158.28L278.58 158.41L278.53 158.71L278.42 159.15L278.26 159.69L278.07 160.28L277.87 160.89L277.68 161.47L277.49 162.06L277.29 162.72L277.08 163.38L276.85 164.01L276.61 164.56L276.35 164.97L276.06 165.24L275.76 165.37L275.43 165.43L275.09 165.44L274.74 165.44L274.4 165.48L274.04 165.55L273.67 165.61L273.3 165.67L272.92 165.72L272.55 165.77L272.19 165.81L271.84 165.84L271.5 165.86L271.17 165.88L270.83 165.89L270.47 165.88L270.07 165.85L269.61 165.8L269.11 165.73L268.58 165.64L268.05 165.54L267.55 165.43L267.09 165.3L266.67 165.18L266.25 165.04L265.85 164.9L265.5 164.73L265.21 164.54L265 164.31L264.87 164.03L264.82 163.69L264.84 163.34L264.89 162.97L264.97 162.62ZM262.46 170.38L262.56 170.1L262.67 169.84L262.82 169.59L262.99 169.37L263.21 169.18L263.47 169.03L263.79 168.94L264.16 168.9L264.56 168.9L265 168.9L265.46 168.91L265.94 168.88L266.43 168.83L266.97 168.78L267.52 168.71L268.09 168.64L268.66 168.56L269.22 168.47L269.79 168.36L270.38 168.24L270.97 168.11L271.55 167.97L272.11 167.83L272.63 167.68L273.12 167.52L273.6 167.35L274.05 167.18L274.47 167.01L274.84 166.85L275.15 166.72L275.4 166.57L275.6 166.39L275.75 166.23L275.86 166.12L275.92 166.11L275.93 166.25L275.89 166.56L275.78 167.02L275.63 167.58L275.45 168.19L275.25 168.82L275.06 169.41L274.88 170.02L274.68 170.68L274.48 171.36L274.26 172L274.02 172.56L273.76 172.98L273.47 173.25L273.16 173.39L272.83 173.45L272.49 173.46L272.15 173.46L271.8 173.51L271.45 173.58L271.08 173.64L270.71 173.7L270.33 173.76L269.96 173.81L269.59 173.84L269.24 173.87L268.91 173.9L268.58 173.92L268.24 173.93L267.87 173.92L267.47 173.89L267.01 173.84L266.51 173.77L265.98 173.68L265.45 173.58L264.95 173.47L264.49 173.35L264.07 173.22L263.65 173.08L263.25 172.94L262.9 172.77L262.61 172.58L262.4 172.35L262.27 172.07L262.22 171.74L262.23 171.39L262.29 171.03L262.37 170.68Z" fill="#4472c4"/>
<text x="219.4" y="139.2" font-size="10.2" textLength="13.8" lengthAdjust="spacingAndGlyphs" fill="#0d1322" stroke="#0d1322" stroke-width="0.3">IRF</text>
<text x="250.5" y="7.7" style="font-family:'Liberation Serif',serif" font-size="8.6" textLength="21.6" lengthAdjust="spacingAndGlyphs" fill="#1c1c1c">BATF/</text>
<text x="250.5" y="16.6" style="font-family:'Liberation Serif',serif" font-size="8.6" textLength="27.6" lengthAdjust="spacingAndGlyphs" fill="#1c1c1c">BATF2/</text>
<text x="250.5" y="25.6" style="font-family:'Liberation Serif',serif" font-size="8.6" textLength="25.1" lengthAdjust="spacingAndGlyphs" fill="#1c1c1c">BATF3</text>
<text x="312.5" y="16.8" style="font-family:'Liberation Serif',serif" font-size="8.6" textLength="21.4" lengthAdjust="spacingAndGlyphs" fill="#1c1c1c">JUNB</text>
<text x="523.3" y="56.6" style="font-family:'Liberation Serif',serif" font-size="10" textLength="16.8" lengthAdjust="spacingAndGlyphs" fill="#1c1c1c">IRF</text>
<text x="522.8" y="67.6" style="font-family:'Liberation Serif',serif" font-size="10" textLength="22.5" lengthAdjust="spacingAndGlyphs" fill="#1c1c1c">site 1</text>
<text x="571.3" y="56.6" style="font-family:'Liberation Serif',serif" font-size="10" textLength="16.6" lengthAdjust="spacingAndGlyphs" fill="#1c1c1c">IRF</text>
<text x="570.8" y="67.6" style="font-family:'Liberation Serif',serif" font-size="10" textLength="23" lengthAdjust="spacingAndGlyphs" fill="#1c1c1c">site 2</text>
<text x="611.7" y="64.3" style="font-family:'Liberation Serif',serif" font-size="10.4" textLength="72.5" lengthAdjust="spacingAndGlyphs" fill="#1c1c1c">BATF/JUNB site</text>
<text x="382.7" y="82.6" font-size="13.5" textLength="127.4" lengthAdjust="spacingAndGlyphs" fill="#111" stroke="#111" stroke-width="0.25">IRF Spec-seq oligo 1</text>
<text transform="translate(515.0 82.6) scale(1 0.875)" style="font-family:'Liberation Mono',monospace" font-size="16" xml:space="preserve" fill="#3c3c3c">NNNN ACGG TGACTCC</text>
<text x="382.7" y="101.7" font-size="13.5" textLength="127.4" lengthAdjust="spacingAndGlyphs" fill="#111" stroke="#111" stroke-width="0.25">IRF Spec-seq oligo 2</text>
<text transform="translate(515.0 101.7) scale(1 0.875)" style="font-family:'Liberation Mono',monospace" font-size="16" xml:space="preserve" fill="#3c3c3c">CCGT NNNN TGACTCC</text>
<text transform="translate(515.0 119.8) scale(1 0.82)" style="font-family:'Liberation Mono',monospace" font-size="16" xml:space="preserve" fill="#3c3c3c">1234 5678</text>
<text x="539.4" y="131.5" font-size="9.6" textLength="35.8" lengthAdjust="spacingAndGlyphs" fill="#222">Position</text>
<g fill="#202020" stroke="#202020" stroke-width="0.2">
<text x="158.3" y="215.8" font-size="11.4" textLength="80.6" lengthAdjust="spacingAndGlyphs">BATF-JUNB-IRF4</text>
<text x="57.7" y="237.3" font-size="8.7" text-anchor="end">1</text>
<text x="57.7" y="269.4" font-size="8.7" text-anchor="end">0.5</text>
<text x="57.7" y="300.8" font-size="8.7" text-anchor="end">0</text>
<text x="57.7" y="332.7" font-size="8.7" text-anchor="end">-0.5</text>
<text x="57.7" y="364.5" font-size="8.7" text-anchor="end">-1</text>
<text x="92.4" y="383.1" font-size="8.7" text-anchor="middle">1</text>
<text x="122.4" y="383.1" font-size="8.7" text-anchor="middle">2</text>
<text x="152.4" y="383.1" font-size="8.7" text-anchor="middle">3</text>
<text x="182.4" y="383.1" font-size="8.7" text-anchor="middle">4</text>
<text x="212.4" y="383.1" font-size="8.7" text-anchor="middle">5</text>
<text x="242.4" y="383.1" font-size="8.7" text-anchor="middle">6</text>
<text x="272.4" y="383.1" font-size="8.7" text-anchor="middle">7</text>
<text x="302.4" y="383.1" font-size="8.7" text-anchor="middle">8</text>
<text x="197.4" y="401.6" font-size="11.1" text-anchor="middle">Position</text>
<text transform="translate(25 299) rotate(-90)" font-size="10.8" text-anchor="middle">-Energy</text>
</g>
<path d="M65.7 234V361.2M62 234H65.7M62 266.1H65.7M62 297.5H65.7M62 329.4H65.7M62 361.2H65.7M92.4 368.3H302.4M92.4 368.3V371.6M122.4 368.3V371.6M152.4 368.3V371.6M182.4 368.3V371.6M212.4 368.3V371.6M242.4 368.3V371.6M272.4 368.3V371.6M302.4 368.3V371.6" stroke="#949494" stroke-width="1" fill="none"/>
<path d="M77.7 297H316.9" stroke="#777" stroke-width="0.7" stroke-dasharray="1.2 1" fill="none"/>
<use href="#gT" transform="translate(77.7 267.3) scale(0.2920 0.2560)" fill="#141414"/>
<use href="#gA" transform="translate(77.7 292.9) scale(0.2920 0.0410)" fill="#0a9473"/>
<use href="#gG" transform="translate(77.7 297.5) scale(0.2920 0.0970)" fill="#e59a0a"/>
<use href="#gC" transform="translate(77.7 307.8) scale(0.2920 0.1900)" fill="#57b3e8"/>
<use href="#gT" transform="translate(107.7 276.1) scale(0.2920 0.1180)" fill="#141414"/>
<use href="#gG" transform="translate(107.7 288.4) scale(0.2920 0.0860)" fill="#e59a0a"/>
<use href="#gA" transform="translate(107.7 297.5) scale(0.2920 0.0760)" fill="#0a9473"/>
<use href="#gC" transform="translate(107.7 305.7) scale(0.2920 0.1230)" fill="#57b3e8"/>
<use href="#gT" transform="translate(137.7 277.5) scale(0.2920 0.1050)" fill="#141414"/>
<use href="#gA" transform="translate(137.7 288) scale(0.2920 0.0900)" fill="#0a9473"/>
<use href="#gG" transform="translate(137.7 297.5) scale(0.2920 0.0930)" fill="#e59a0a"/>
<use href="#gC" transform="translate(137.7 307.2) scale(0.2920 0.0940)" fill="#57b3e8"/>
<use href="#gG" transform="translate(167.7 270.4) scale(0.2920 0.1390)" fill="#e59a0a"/>
<use href="#gC" transform="translate(167.7 284.7) scale(0.2920 0.1180)" fill="#57b3e8"/>
<use href="#gT" transform="translate(167.7 297) scale(0.2920 0.1280)" fill="#141414"/>
<use href="#gA" transform="translate(167.7 309.8) scale(0.2920 0.1390)" fill="#0a9473"/>
<use href="#gG" transform="translate(197.7 265.9) scale(0.2920 0.2820)" fill="#e59a0a"/>
<use href="#gA" transform="translate(197.7 294.1) scale(0.2920 0.0290)" fill="#0a9473"/>
<use href="#gT" transform="translate(197.7 297.5) scale(0.2920 0.0480)" fill="#141414"/>
<use href="#gC" transform="translate(197.7 302.7) scale(0.2920 0.2450)" fill="#57b3e8"/>
<use href="#gA" transform="translate(227.7 262.2) scale(0.2920 0.2210)" fill="#0a9473"/>
<use href="#gG" transform="translate(227.7 284.3) scale(0.2920 0.1220)" fill="#e59a0a"/>
<use href="#gT" transform="translate(227.7 297.5) scale(0.2920 0.0410)" fill="#141414"/>
<use href="#gC" transform="translate(227.7 302.3) scale(0.2920 0.2940)" fill="#57b3e8"/>
<use href="#gT" transform="translate(257.7 237.7) scale(0.2920 0.4080)" fill="#141414"/>
<use href="#gA" transform="translate(257.7 278.5) scale(0.2920 0.1800)" fill="#0a9473"/>
<use href="#gG" transform="translate(257.7 297.5) scale(0.2920 0.1090)" fill="#e59a0a"/>
<use href="#gC" transform="translate(257.7 308.8) scale(0.2920 0.4860)" fill="#57b3e8"/>
<use href="#gA" transform="translate(287.7 232.8) scale(0.2920 0.6370)" fill="#0a9473"/>
<use href="#gT" transform="translate(287.7 297) scale(0.2920 0.0160)" fill="#141414"/>
<use href="#gG" transform="translate(287.7 299) scale(0.2920 0.1840)" fill="#e59a0a"/>
<use href="#gC" transform="translate(287.7 318) scale(0.2920 0.4500)" fill="#57b3e8"/>
<g fill="#202020" stroke="#202020" stroke-width="0.2">
<text x="484.8" y="215.8" font-size="11.4" textLength="81.5" lengthAdjust="spacingAndGlyphs">BATF-JUNB-IRF8</text>
<text x="383.1" y="266.2" font-size="8.7" text-anchor="end">0.5</text>
<text x="383.1" y="302.7" font-size="8.7" text-anchor="end">0</text>
<text x="383.1" y="339.3" font-size="8.7" text-anchor="end">-0.5</text>
<text x="420.1" y="384.9" font-size="8.7" text-anchor="middle">1</text>
<text x="450.1" y="384.9" font-size="8.7" text-anchor="middle">2</text>
<text x="480.1" y="384.9" font-size="8.7" text-anchor="middle">3</text>
<text x="510.1" y="384.9" font-size="8.7" text-anchor="middle">4</text>
<text x="540.1" y="384.9" font-size="8.7" text-anchor="middle">5</text>
<text x="570.1" y="384.9" font-size="8.7" text-anchor="middle">6</text>
<text x="600.1" y="384.9" font-size="8.7" text-anchor="middle">7</text>
<text x="630.1" y="384.9" font-size="8.7" text-anchor="middle">8</text>
<text x="525.1" y="401.8" font-size="11.1" text-anchor="middle">Position</text>
<text transform="translate(356.4 300.6) rotate(-90)" font-size="10.8" text-anchor="middle">-Energy</text>
</g>
<path d="M393.6 262.4V335.5M389.9 262.4H393.6M389.9 298.9H393.6M389.9 335.5H393.6M420.1 370.4H630.1M420.1 370.4V373.7M450.1 370.4V373.7M480.1 370.4V373.7M510.1 370.4V373.7M540.1 370.4V373.7M570.1 370.4V373.7M600.1 370.4V373.7M630.1 370.4V373.7" stroke="#949494" stroke-width="1" fill="none"/>
<path d="M405.1 298.6H644.3" stroke="#777" stroke-width="0.7" stroke-dasharray="1.2 1" fill="none"/>
<use href="#gT" transform="translate(405.1 280.6) scale(0.2920 0.1760)" fill="#141414"/>
<use href="#gC" transform="translate(405.1 299) scale(0.2920 0.0410)" fill="#57b3e8"/>
<use href="#gA" transform="translate(405.1 303.7) scale(0.2920 0.0610)" fill="#0a9473"/>
<use href="#gG" transform="translate(405.1 310.4) scale(0.2920 0.0760)" fill="#e59a0a"/>
<use href="#gT" transform="translate(435.1 272.4) scale(0.2920 0.1080)" fill="#141414"/>
<use href="#gG" transform="translate(435.1 283.7) scale(0.2920 0.0830)" fill="#e59a0a"/>
<use href="#gA" transform="translate(435.1 292) scale(0.2920 0.0620)" fill="#0a9473"/>
<use href="#gC" transform="translate(435.1 299.6) scale(0.2920 0.2350)" fill="#57b3e8"/>
<use href="#gT" transform="translate(465.1 282.2) scale(0.2920 0.1190)" fill="#141414"/>
<use href="#gA" transform="translate(465.1 294.1) scale(0.2920 0.0410)" fill="#0a9473"/>
<use href="#gC" transform="translate(465.1 299) scale(0.2920 0.0330)" fill="#57b3e8"/>
<use href="#gG" transform="translate(465.1 302.7) scale(0.2920 0.1260)" fill="#e59a0a"/>
<use href="#gC" transform="translate(495.1 285.3) scale(0.2920 0.1120)" fill="#57b3e8"/>
<use href="#gG" transform="translate(495.1 296.7) scale(0.2920 0.0150)" fill="#e59a0a"/>
<use href="#gT" transform="translate(495.1 299) scale(0.2920 0.0330)" fill="#141414"/>
<use href="#gA" transform="translate(495.1 302.3) scale(0.2920 0.0960)" fill="#0a9473"/>
<use href="#gA" transform="translate(525.1 278.5) scale(0.2920 0.1030)" fill="#0a9473"/>
<use href="#gG" transform="translate(525.1 288.8) scale(0.2920 0.0940)" fill="#e59a0a"/>
<use href="#gT" transform="translate(525.1 299) scale(0.2920 0.0330)" fill="#141414"/>
<use href="#gC" transform="translate(525.1 302.7) scale(0.2920 0.1590)" fill="#57b3e8"/>
<use href="#gA" transform="translate(555.1 279.2) scale(0.2920 0.1080)" fill="#0a9473"/>
<use href="#gT" transform="translate(555.1 290) scale(0.2920 0.0610)" fill="#141414"/>
<use href="#gG" transform="translate(555.1 296.1) scale(0.2920 0.0210)" fill="#e59a0a"/>
<use href="#gC" transform="translate(555.1 299.6) scale(0.2920 0.1700)" fill="#57b3e8"/>
<use href="#gT" transform="translate(585.1 247.9) scale(0.2920 0.4000)" fill="#141414"/>
<use href="#gA" transform="translate(585.1 288.4) scale(0.2920 0.0980)" fill="#0a9473"/>
<use href="#gG" transform="translate(585.1 299.6) scale(0.2920 0.1840)" fill="#e59a0a"/>
<use href="#gC" transform="translate(585.1 318.6) scale(0.2920 0.3110)" fill="#57b3e8"/>
<use href="#gA" transform="translate(615.1 232.8) scale(0.2920 0.6070)" fill="#0a9473"/>
<use href="#gT" transform="translate(615.1 294.1) scale(0.2920 0.0410)" fill="#141414"/>
<use href="#gG" transform="translate(615.1 299.6) scale(0.2920 0.1640)" fill="#e59a0a"/>
<use href="#gC" transform="translate(615.1 316.6) scale(0.2920 0.4840)" fill="#57b3e8"/>
<g fill="#202020" stroke="#202020" stroke-width="0.2">
<text x="158.1" y="427" font-size="11.4" textLength="86.6" lengthAdjust="spacingAndGlyphs">BATF2-JUNB-IRF4</text>
<text x="53.2" y="440.6" font-size="8.7" text-anchor="end">1.5</text>
<text x="53.2" y="461.3" font-size="8.7" text-anchor="end">1</text>
<text x="53.2" y="481.8" font-size="8.7" text-anchor="end">0.5</text>
<text x="53.2" y="502" font-size="8.7" text-anchor="end">0</text>
<text x="53.2" y="522.5" font-size="8.7" text-anchor="end">-0.5</text>
<text x="53.2" y="543.2" font-size="8.7" text-anchor="end">-1</text>
<text x="53.2" y="563.5" font-size="8.7" text-anchor="end">-1.5</text>
<text x="88.3" y="585.7" font-size="8.7" text-anchor="middle">1</text>
<text x="118.3" y="585.7" font-size="8.7" text-anchor="middle">2</text>
<text x="148.3" y="585.7" font-size="8.7" text-anchor="middle">3</text>
<text x="178.3" y="585.7" font-size="8.7" text-anchor="middle">4</text>
<text x="208.3" y="585.7" font-size="8.7" text-anchor="middle">5</text>
<text x="238.3" y="585.7" font-size="8.7" text-anchor="middle">6</text>
<text x="268.3" y="585.7" font-size="8.7" text-anchor="middle">7</text>
<text x="298.3" y="585.7" font-size="8.7" text-anchor="middle">8</text>
<text x="193.3" y="604.8" font-size="11.1" text-anchor="middle">Position</text>
<text transform="translate(25 502.4) rotate(-90)" font-size="10.8" text-anchor="middle">-Energy</text>
</g>
<path d="M61.7 438.3V561.2M58 438.3H61.7M58 459H61.7M58 479.5H61.7M58 499.7H61.7M58 520.2H61.7M58 540.9H61.7M58 561.2H61.7M88.3 571.3H298.3M88.3 571.3V574.6M118.3 571.3V574.6M148.3 571.3V574.6M178.3 571.3V574.6M208.3 571.3V574.6M238.3 571.3V574.6M268.3 571.3V574.6M298.3 571.3V574.6" stroke="#949494" stroke-width="1" fill="none"/>
<path d="M73.4 499.6H312.6" stroke="#777" stroke-width="0.7" stroke-dasharray="1.2 1" fill="none"/>
<use href="#gT" transform="translate(73.4 478.1) scale(0.2920 0.1540)" fill="#141414"/>
<use href="#gA" transform="translate(73.4 493.5) scale(0.2920 0.0610)" fill="#0a9473"/>
<use href="#gG" transform="translate(73.4 500.2) scale(0.2920 0.0760)" fill="#e59a0a"/>
<use href="#gC" transform="translate(73.4 508.8) scale(0.2920 0.1230)" fill="#57b3e8"/>
<use href="#gT" transform="translate(103.4 484.9) scale(0.2920 0.0750)" fill="#141414"/>
<use href="#gA" transform="translate(103.4 492.4) scale(0.2920 0.0720)" fill="#0a9473"/>
<use href="#gC" transform="translate(103.4 500.2) scale(0.2920 0.0350)" fill="#57b3e8"/>
<use href="#gG" transform="translate(103.4 504.3) scale(0.2920 0.1060)" fill="#e59a0a"/>
<use href="#gA" transform="translate(133.4 472) scale(0.2920 0.2040)" fill="#0a9473"/>
<use href="#gT" transform="translate(133.4 492.4) scale(0.2920 0.0720)" fill="#141414"/>
<use href="#gG" transform="translate(133.4 500.2) scale(0.2920 0.1230)" fill="#e59a0a"/>
<use href="#gC" transform="translate(133.4 513.3) scale(0.2920 0.1390)" fill="#57b3e8"/>
<use href="#gG" transform="translate(163.4 473) scale(0.2920 0.2250)" fill="#e59a0a"/>
<use href="#gT" transform="translate(163.4 495.9) scale(0.2920 0.0370)" fill="#141414"/>
<use href="#gC" transform="translate(163.4 500.6) scale(0.2920 0.0510)" fill="#57b3e8"/>
<use href="#gA" transform="translate(163.4 506.3) scale(0.2920 0.2130)" fill="#0a9473"/>
<use href="#gG" transform="translate(193.4 461.8) scale(0.2920 0.3720)" fill="#e59a0a"/>
<use href="#gA" transform="translate(193.4 500.2) scale(0.2920 0.1270)" fill="#0a9473"/>
<use href="#gC" transform="translate(193.4 513.3) scale(0.2920 0.2310)" fill="#57b3e8"/>
<use href="#gA" transform="translate(223.4 458.1) scale(0.2920 0.3480)" fill="#0a9473"/>
<use href="#gG" transform="translate(223.4 492.9) scale(0.2920 0.0670)" fill="#e59a0a"/>
<use href="#gT" transform="translate(223.4 500.2) scale(0.2920 0.0660)" fill="#141414"/>
<use href="#gC" transform="translate(223.4 507.2) scale(0.2920 0.3430)" fill="#57b3e8"/>
<use href="#gA" transform="translate(253.4 438.9) scale(0.2920 0.3350)" fill="#0a9473"/>
<use href="#gT" transform="translate(253.4 472.4) scale(0.2920 0.2660)" fill="#141414"/>
<use href="#gG" transform="translate(253.4 500.2) scale(0.2920 0.0960)" fill="#e59a0a"/>
<use href="#gC" transform="translate(253.4 510.4) scale(0.2920 0.5050)" fill="#57b3e8"/>
<use href="#gA" transform="translate(283.4 435.2) scale(0.2920 0.6440)" fill="#0a9473"/>
<use href="#gT" transform="translate(283.4 500) scale(0.2920 0.0160)" fill="#141414"/>
<use href="#gG" transform="translate(283.4 502.3) scale(0.2920 0.2860)" fill="#e59a0a"/>
<use href="#gC" transform="translate(283.4 531.7) scale(0.2920 0.3330)" fill="#57b3e8"/>
<g fill="#202020" stroke="#202020" stroke-width="0.2">
<text x="484.5" y="427" font-size="11.4" textLength="87.1" lengthAdjust="spacingAndGlyphs">BATF2-JUNB-IRF8</text>
<text x="380.9" y="449.3" font-size="8.7" text-anchor="end">1</text>
<text x="380.9" y="477.9" font-size="8.7" text-anchor="end">0.5</text>
<text x="380.9" y="506.1" font-size="8.7" text-anchor="end">0</text>
<text x="380.9" y="534.9" font-size="8.7" text-anchor="end">-0.5</text>
<text x="380.9" y="563.8" font-size="8.7" text-anchor="end">-1</text>
<text x="415.4" y="587.8" font-size="8.7" text-anchor="middle">1</text>
<text x="445.4" y="587.8" font-size="8.7" text-anchor="middle">2</text>
<text x="475.4" y="587.8" font-size="8.7" text-anchor="middle">3</text>
<text x="505.4" y="587.8" font-size="8.7" text-anchor="middle">4</text>
<text x="535.4" y="587.8" font-size="8.7" text-anchor="middle">5</text>
<text x="565.4" y="587.8" font-size="8.7" text-anchor="middle">6</text>
<text x="595.4" y="587.8" font-size="8.7" text-anchor="middle">7</text>
<text x="625.4" y="587.8" font-size="8.7" text-anchor="middle">8</text>
<text x="520.4" y="604.6" font-size="11.1" text-anchor="middle">Position</text>
<text transform="translate(356.4 502) rotate(-90)" font-size="10.8" text-anchor="middle">-Energy</text>
</g>
<path d="M388.7 444.9V559.4M385 444.9H388.7M385 473.5H388.7M385 501.7H388.7M385 530.5H388.7M385 559.4H388.7M415.4 573.2H625.4M415.4 573.2V576.5M445.4 573.2V576.5M475.4 573.2V576.5M505.4 573.2V576.5M535.4 573.2V576.5M565.4 573.2V576.5M595.4 573.2V576.5M625.4 573.2V576.5" stroke="#949494" stroke-width="1" fill="none"/>
<path d="M400.7 501.4H639.9" stroke="#777" stroke-width="0.7" stroke-dasharray="1.2 1" fill="none"/>
<use href="#gT" transform="translate(400.7 483.2) scale(0.2920 0.1820)" fill="#141414"/>
<use href="#gA" transform="translate(400.7 501.8) scale(0.2920 0.0330)" fill="#0a9473"/>
<use href="#gC" transform="translate(400.7 505.5) scale(0.2920 0.0530)" fill="#57b3e8"/>
<use href="#gG" transform="translate(400.7 511.9) scale(0.2920 0.0920)" fill="#e59a0a"/>
<use href="#gG" transform="translate(430.7 478.5) scale(0.2920 0.2010)" fill="#e59a0a"/>
<use href="#gA" transform="translate(430.7 498.6) scale(0.2920 0.0280)" fill="#0a9473"/>
<use href="#gT" transform="translate(430.7 501.8) scale(0.2920 0.0860)" fill="#141414"/>
<use href="#gC" transform="translate(430.7 511.2) scale(0.2920 0.1390)" fill="#57b3e8"/>
<use href="#gT" transform="translate(460.7 472.6) scale(0.2920 0.1820)" fill="#141414"/>
<use href="#gA" transform="translate(460.7 490.8) scale(0.2920 0.1060)" fill="#0a9473"/>
<use href="#gG" transform="translate(460.7 502.3) scale(0.2920 0.1160)" fill="#e59a0a"/>
<use href="#gC" transform="translate(460.7 514.5) scale(0.2920 0.1580)" fill="#57b3e8"/>
<use href="#gC" transform="translate(490.7 476.1) scale(0.2920 0.2150)" fill="#57b3e8"/>
<use href="#gG" transform="translate(490.7 497.6) scale(0.2920 0.0380)" fill="#e59a0a"/>
<use href="#gA" transform="translate(490.7 501.8) scale(0.2920 0.0940)" fill="#0a9473"/>
<use href="#gT" transform="translate(490.7 511.2) scale(0.2920 0.1540)" fill="#141414"/>
<use href="#gG" transform="translate(520.7 481.2) scale(0.2920 0.1840)" fill="#e59a0a"/>
<use href="#gT" transform="translate(520.7 499.6) scale(0.2920 0.0180)" fill="#141414"/>
<use href="#gA" transform="translate(520.7 501.8) scale(0.2920 0.0330)" fill="#0a9473"/>
<use href="#gC" transform="translate(520.7 505.7) scale(0.2920 0.1540)" fill="#57b3e8"/>
<use href="#gA" transform="translate(550.7 482.2) scale(0.2920 0.1680)" fill="#0a9473"/>
<use href="#gT" transform="translate(550.7 499) scale(0.2920 0.0240)" fill="#141414"/>
<use href="#gC" transform="translate(550.7 502.3) scale(0.2920 0.1880)" fill="#57b3e8"/>
<use href="#gT" transform="translate(580.7 454.2) scale(0.2920 0.3110)" fill="#141414"/>
<use href="#gA" transform="translate(580.7 485.3) scale(0.2920 0.1530)" fill="#0a9473"/>
<use href="#gG" transform="translate(580.7 501.8) scale(0.2920 0.1010)" fill="#e59a0a"/>
<use href="#gC" transform="translate(580.7 512.5) scale(0.2920 0.3610)" fill="#57b3e8"/>
<use href="#gA" transform="translate(610.7 436.9) scale(0.2920 0.6370)" fill="#0a9473"/>
<use href="#gT" transform="translate(610.7 501.8) scale(0.2920 0.1410)" fill="#141414"/>
<use href="#gC" transform="translate(610.7 517) scale(0.2920 0.2350)" fill="#57b3e8"/>
<use href="#gG" transform="translate(610.7 541.1) scale(0.2920 0.2660)" fill="#e59a0a"/>
<g fill="#202020" stroke="#202020" stroke-width="0.2">
<text x="158.4" y="630.2" font-size="11.4" textLength="86.4" lengthAdjust="spacingAndGlyphs">BATF3-JUNB-IRF4</text>
<text x="58.6" y="655.8" font-size="8.7" text-anchor="end">1</text>
<text x="58.6" y="682.5" font-size="8.7" text-anchor="end">0.5</text>
<text x="58.6" y="709" font-size="8.7" text-anchor="end">0</text>
<text x="58.6" y="735.3" font-size="8.7" text-anchor="end">-0.5</text>
<text x="58.6" y="762" font-size="8.7" text-anchor="end">-1</text>
<text x="93.3" y="791" font-size="8.7" text-anchor="middle">1</text>
<text x="123.3" y="791" font-size="8.7" text-anchor="middle">2</text>
<text x="153.3" y="791" font-size="8.7" text-anchor="middle">3</text>
<text x="183.3" y="791" font-size="8.7" text-anchor="middle">4</text>
<text x="213.3" y="791" font-size="8.7" text-anchor="middle">5</text>
<text x="243.3" y="791" font-size="8.7" text-anchor="middle">6</text>
<text x="273.3" y="791" font-size="8.7" text-anchor="middle">7</text>
<text x="303.3" y="791" font-size="8.7" text-anchor="middle">8</text>
<text x="198.3" y="804.6" font-size="11.1" text-anchor="middle">Position</text>
<text transform="translate(25 707.6) rotate(-90)" font-size="10.8" text-anchor="middle">-Energy</text>
</g>
<path d="M66.8 653.1V759.3M63.1 653.1H66.8M63.1 679.8H66.8M63.1 706.3H66.8M63.1 732.6H66.8M63.1 759.3H66.8M93.3 777.3H303.3M93.3 777.3V780.6M123.3 777.3V780.6M153.3 777.3V780.6M183.3 777.3V780.6M213.3 777.3V780.6M243.3 777.3V780.6M273.3 777.3V780.6M303.3 777.3V780.6" stroke="#949494" stroke-width="1" fill="none"/>
<path d="M78.4 706.1H317.6" stroke="#777" stroke-width="0.7" stroke-dasharray="1.2 1" fill="none"/>
<use href="#gT" transform="translate(78.4 676.5) scale(0.2920 0.1840)" fill="#141414"/>
<use href="#gA" transform="translate(78.4 694.9) scale(0.2920 0.1120)" fill="#0a9473"/>
<use href="#gG" transform="translate(78.4 707.2) scale(0.2920 0.1020)" fill="#e59a0a"/>
<use href="#gC" transform="translate(78.4 718.8) scale(0.2920 0.1640)" fill="#57b3e8"/>
<use href="#gA" transform="translate(108.4 691.8) scale(0.2920 0.0960)" fill="#0a9473"/>
<use href="#gT" transform="translate(108.4 701.4) scale(0.2920 0.0470)" fill="#141414"/>
<use href="#gG" transform="translate(108.4 706.8) scale(0.2920 0.0320)" fill="#e59a0a"/>
<use href="#gC" transform="translate(108.4 710.6) scale(0.2920 0.1030)" fill="#57b3e8"/>
<use href="#gA" transform="translate(138.4 677.9) scale(0.2920 0.1580)" fill="#0a9473"/>
<use href="#gT" transform="translate(138.4 693.7) scale(0.2920 0.1240)" fill="#141414"/>
<use href="#gG" transform="translate(138.4 707.2) scale(0.2920 0.0960)" fill="#e59a0a"/>
<use href="#gC" transform="translate(138.4 717.4) scale(0.2920 0.1570)" fill="#57b3e8"/>
<use href="#gG" transform="translate(168.4 672.8) scale(0.2920 0.3170)" fill="#e59a0a"/>
<use href="#gT" transform="translate(168.4 704.5) scale(0.2920 0.0160)" fill="#141414"/>
<use href="#gC" transform="translate(168.4 707.2) scale(0.2920 0.0690)" fill="#57b3e8"/>
<use href="#gA" transform="translate(168.4 714.7) scale(0.2920 0.2460)" fill="#0a9473"/>
<use href="#gG" transform="translate(198.4 666.3) scale(0.2920 0.3720)" fill="#e59a0a"/>
<use href="#gT" transform="translate(198.4 703.5) scale(0.2920 0.0260)" fill="#141414"/>
<use href="#gA" transform="translate(198.4 706.6) scale(0.2920 0.1830)" fill="#0a9473"/>
<use href="#gC" transform="translate(198.4 725.4) scale(0.2920 0.2000)" fill="#57b3e8"/>
<use href="#gA" transform="translate(228.4 664.7) scale(0.2920 0.3430)" fill="#0a9473"/>
<use href="#gG" transform="translate(228.4 699) scale(0.2920 0.0710)" fill="#e59a0a"/>
<use href="#gT" transform="translate(228.4 706.6) scale(0.2920 0.0850)" fill="#141414"/>
<use href="#gC" transform="translate(228.4 715.7) scale(0.2920 0.3170)" fill="#57b3e8"/>
<use href="#gA" transform="translate(258.4 643.2) scale(0.2920 0.3330)" fill="#0a9473"/>
<use href="#gT" transform="translate(258.4 676.5) scale(0.2920 0.2900)" fill="#141414"/>
<use href="#gG" transform="translate(258.4 706.8) scale(0.2920 0.0790)" fill="#e59a0a"/>
<use href="#gC" transform="translate(258.4 715.3) scale(0.2920 0.5400)" fill="#57b3e8"/>
<use href="#gA" transform="translate(288.4 641.8) scale(0.2920 0.6430)" fill="#0a9473"/>
<use href="#gT" transform="translate(288.4 706.6) scale(0.2920 0.0260)" fill="#141414"/>
<use href="#gG" transform="translate(288.4 709.6) scale(0.2920 0.2700)" fill="#e59a0a"/>
<use href="#gC" transform="translate(288.4 737.2) scale(0.2920 0.3410)" fill="#57b3e8"/>
<g fill="#202020" stroke="#202020" stroke-width="0.2">
<text x="484.8" y="630.2" font-size="11.4" textLength="86.8" lengthAdjust="spacingAndGlyphs">BATF3-JUNB-IRF8</text>
<text x="385.6" y="640" font-size="8.7" text-anchor="end">0.6</text>
<text x="385.6" y="661.8" font-size="8.7" text-anchor="end">0.4</text>
<text x="385.6" y="683.8" font-size="8.7" text-anchor="end">0.2</text>
<text x="385.6" y="705.7" font-size="8.7" text-anchor="end">0</text>
<text x="385.6" y="727.7" font-size="8.7" text-anchor="end">-0.2</text>
<text x="385.6" y="749.8" font-size="8.7" text-anchor="end">-0.4</text>
<text x="385.6" y="771.8" font-size="8.7" text-anchor="end">-0.6</text>
<text x="420.6" y="789" font-size="8.7" text-anchor="middle">1</text>
<text x="450.6" y="789" font-size="8.7" text-anchor="middle">2</text>
<text x="480.6" y="789" font-size="8.7" text-anchor="middle">3</text>
<text x="510.6" y="789" font-size="8.7" text-anchor="middle">4</text>
<text x="540.6" y="789" font-size="8.7" text-anchor="middle">5</text>
<text x="570.6" y="789" font-size="8.7" text-anchor="middle">6</text>
<text x="600.6" y="789" font-size="8.7" text-anchor="middle">7</text>
<text x="630.6" y="789" font-size="8.7" text-anchor="middle">8</text>
<text x="525.6" y="805.2" font-size="11.1" text-anchor="middle">Position</text>
<text transform="translate(356.4 704.7) rotate(-90)" font-size="10.8" text-anchor="middle">-Energy</text>
</g>
<path d="M394.7 637.5V769.3M391 637.5H394.7M391 659.3H394.7M391 681.3H394.7M391 703.2H394.7M391 725.2H394.7M391 747.3H394.7M391 769.3H394.7M420.6 774.7H630.6M420.6 774.7V778M450.6 774.7V778M480.6 774.7V778M510.6 774.7V778M540.6 774.7V778M570.6 774.7V778M600.6 774.7V778M630.6 774.7V778" stroke="#949494" stroke-width="1" fill="none"/>
<path d="M405.9 703.1H645.1" stroke="#777" stroke-width="0.7" stroke-dasharray="1.2 1" fill="none"/>
<use href="#gT" transform="translate(405.9 670.4) scale(0.2920 0.2660)" fill="#141414"/>
<use href="#gA" transform="translate(405.9 697) scale(0.2920 0.0610)" fill="#0a9473"/>
<use href="#gC" transform="translate(405.9 703.9) scale(0.2920 0.1090)" fill="#57b3e8"/>
<use href="#gG" transform="translate(405.9 715.8) scale(0.2920 0.1900)" fill="#e59a0a"/>
<use href="#gG" transform="translate(435.9 678.6) scale(0.2920 0.1840)" fill="#e59a0a"/>
<use href="#gA" transform="translate(435.9 697) scale(0.2920 0.0350)" fill="#0a9473"/>
<use href="#gT" transform="translate(435.9 700.5) scale(0.2920 0.0260)" fill="#141414"/>
<use href="#gC" transform="translate(435.9 703.9) scale(0.2920 0.2110)" fill="#57b3e8"/>
<use href="#gA" transform="translate(465.9 650) scale(0.2920 0.3060)" fill="#0a9473"/>
<use href="#gT" transform="translate(465.9 680.6) scale(0.2920 0.2190)" fill="#141414"/>
<use href="#gG" transform="translate(465.9 703.9) scale(0.2920 0.2420)" fill="#e59a0a"/>
<use href="#gC" transform="translate(465.9 729.7) scale(0.2920 0.2700)" fill="#57b3e8"/>
<use href="#gG" transform="translate(495.9 665.7) scale(0.2920 0.3680)" fill="#e59a0a"/>
<use href="#gT" transform="translate(495.9 703.5) scale(0.2920 0.0580)" fill="#141414"/>
<use href="#gA" transform="translate(495.9 709.7) scale(0.2920 0.3270)" fill="#0a9473"/>
<use href="#gG" transform="translate(525.9 681.7) scale(0.2920 0.1670)" fill="#e59a0a"/>
<use href="#gT" transform="translate(525.9 698.4) scale(0.2920 0.0470)" fill="#141414"/>
<use href="#gA" transform="translate(525.9 703.5) scale(0.2920 0.0310)" fill="#0a9473"/>
<use href="#gC" transform="translate(525.9 707.2) scale(0.2920 0.1680)" fill="#57b3e8"/>
<use href="#gA" transform="translate(555.9 678) scale(0.2920 0.1180)" fill="#0a9473"/>
<use href="#gT" transform="translate(555.9 689.8) scale(0.2920 0.0860)" fill="#141414"/>
<use href="#gG" transform="translate(555.9 698.4) scale(0.2920 0.0470)" fill="#e59a0a"/>
<use href="#gC" transform="translate(555.9 704.6) scale(0.2920 0.2100)" fill="#57b3e8"/>
<use href="#gT" transform="translate(585.9 658.2) scale(0.2920 0.3780)" fill="#141414"/>
<use href="#gA" transform="translate(585.9 696) scale(0.2920 0.0710)" fill="#0a9473"/>
<use href="#gG" transform="translate(585.9 703.9) scale(0.2920 0.0740)" fill="#e59a0a"/>
<use href="#gC" transform="translate(585.9 711.7) scale(0.2920 0.3580)" fill="#57b3e8"/>
<use href="#gA" transform="translate(615.9 637.7) scale(0.2920 0.6480)" fill="#0a9473"/>
<use href="#gT" transform="translate(615.9 703.5) scale(0.2920 0.0250)" fill="#141414"/>
<use href="#gG" transform="translate(615.9 706.6) scale(0.2920 0.2450)" fill="#e59a0a"/>
<use href="#gC" transform="translate(615.9 732.1) scale(0.2920 0.3790)" fill="#57b3e8"/>
</svg>
</body></html>
